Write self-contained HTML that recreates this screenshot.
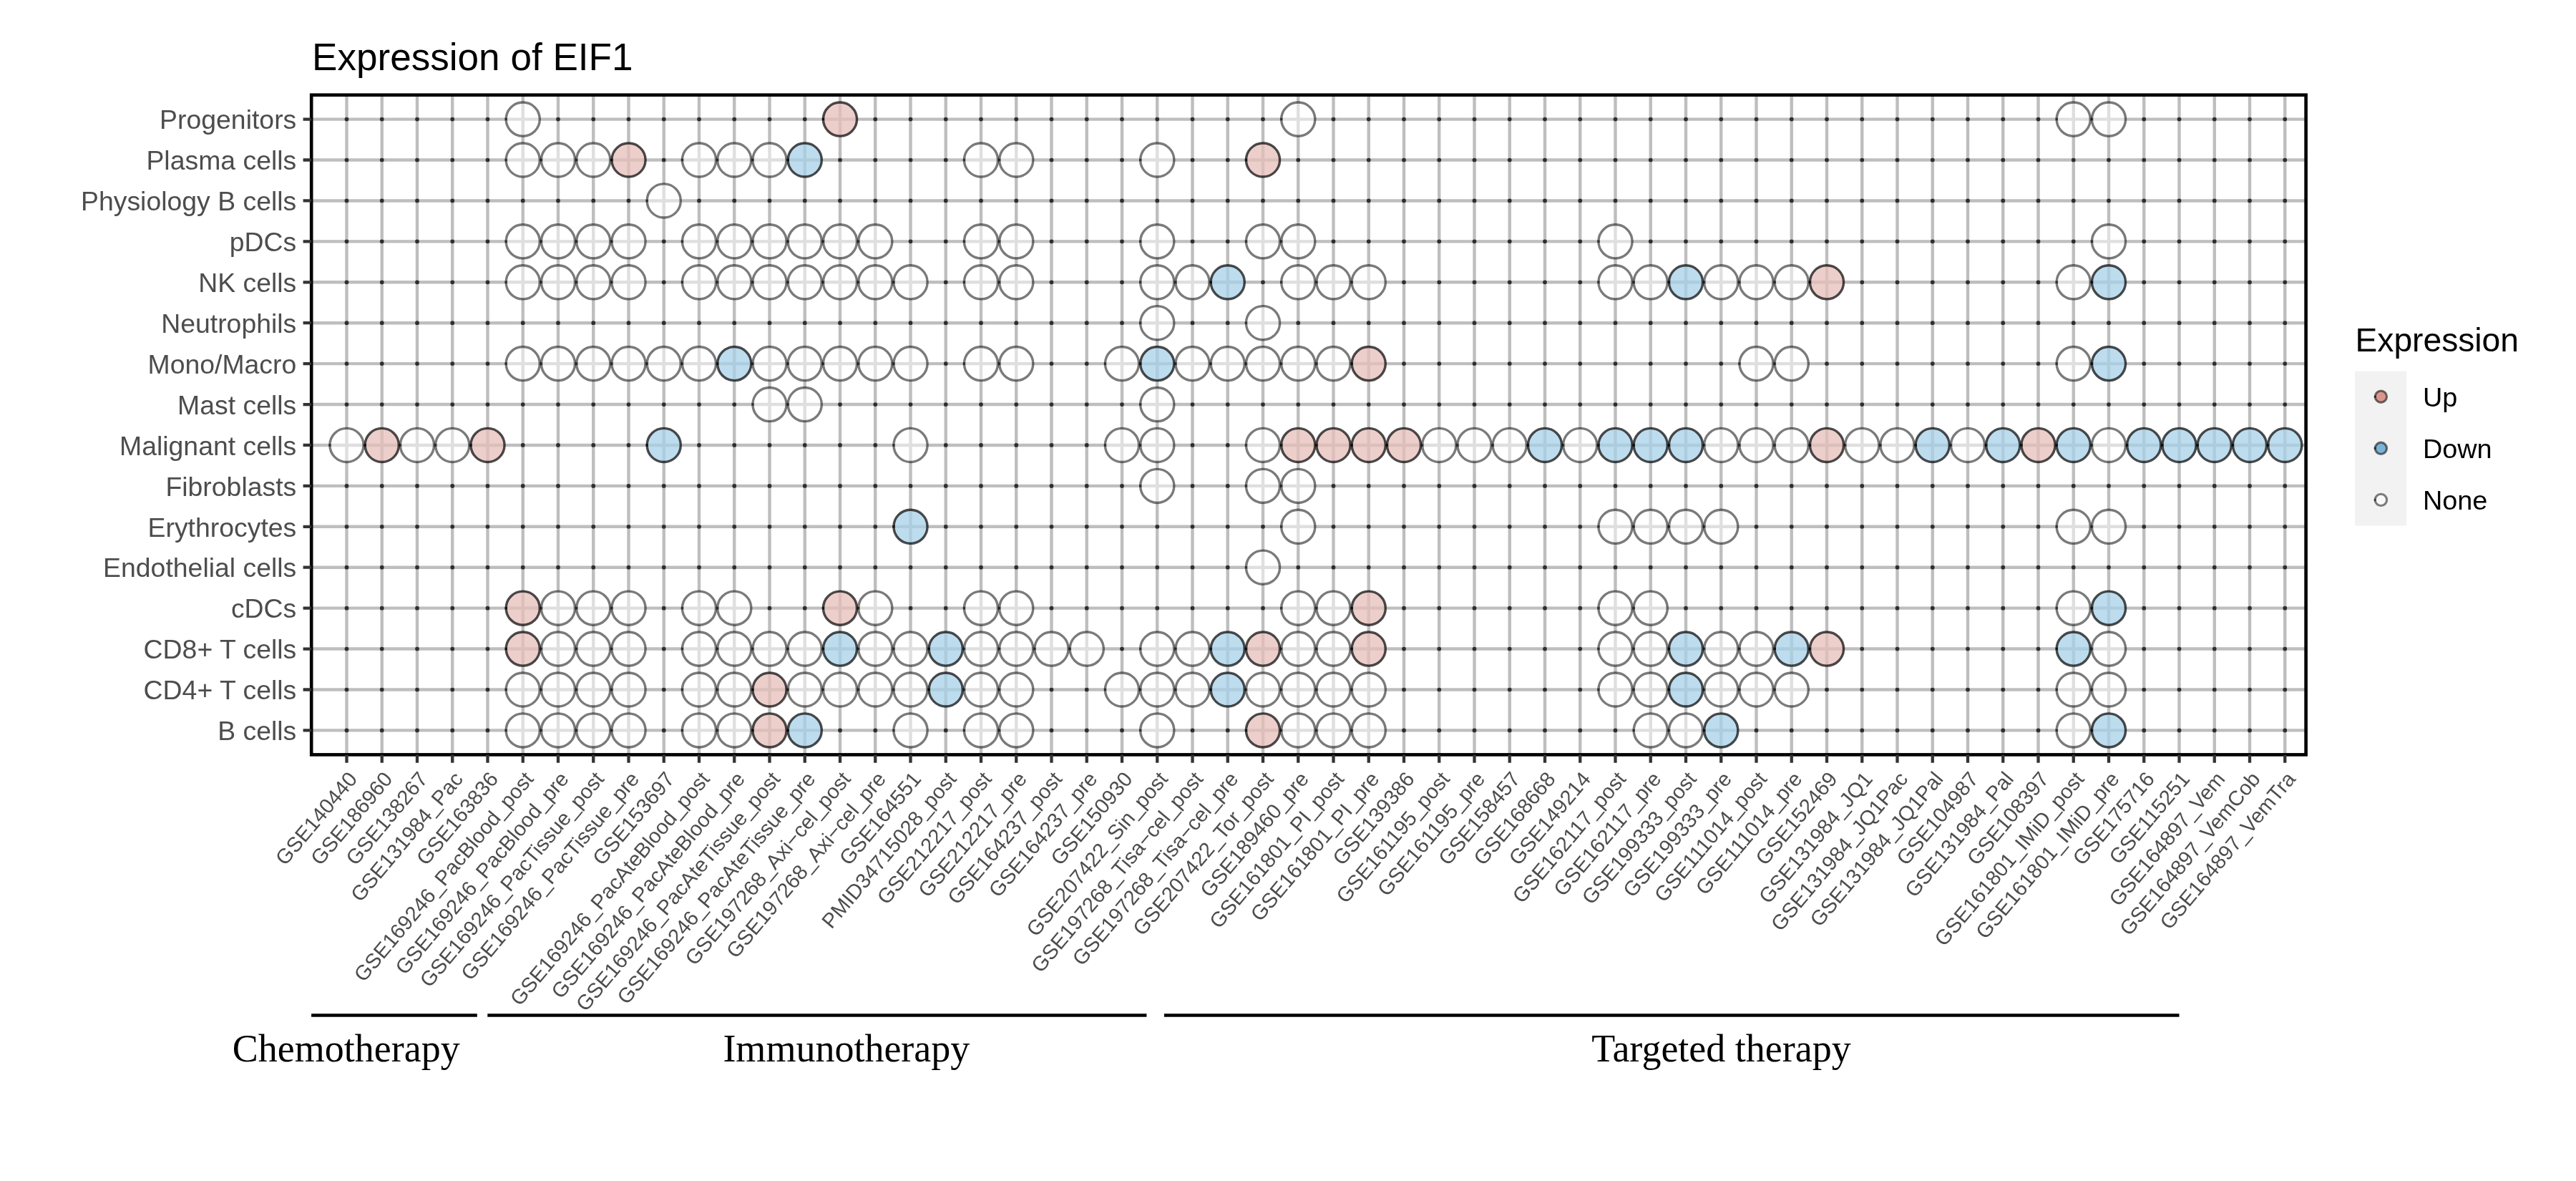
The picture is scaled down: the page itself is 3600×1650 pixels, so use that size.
<!DOCTYPE html><html><head><meta charset="utf-8"><style>html,body{margin:0;padding:0;background:#fff;}svg{display:block;font-family:'Liberation Sans', sans-serif;will-change:transform;}</style></head><body>
<svg width="3600" height="1650" viewBox="0 0 3600 1650">
<rect width="3600" height="1650" fill="#ffffff"/>
<text transform="translate(436,97.76) scale(1,1.0)" font-size="53.1" fill="#000">Expression of EIF1</text>
<path d="M484.5 132.7V1054.4M533.75 132.7V1054.4M583 132.7V1054.4M632.25 132.7V1054.4M681.5 132.7V1054.4M730.75 132.7V1054.4M780 132.7V1054.4M829.25 132.7V1054.4M878.5 132.7V1054.4M927.75 132.7V1054.4M977 132.7V1054.4M1026.25 132.7V1054.4M1075.5 132.7V1054.4M1124.75 132.7V1054.4M1174 132.7V1054.4M1223.25 132.7V1054.4M1272.5 132.7V1054.4M1321.75 132.7V1054.4M1371 132.7V1054.4M1420.25 132.7V1054.4M1469.5 132.7V1054.4M1518.75 132.7V1054.4M1568 132.7V1054.4M1617.25 132.7V1054.4M1666.5 132.7V1054.4M1715.75 132.7V1054.4M1765 132.7V1054.4M1814.25 132.7V1054.4M1863.5 132.7V1054.4M1912.75 132.7V1054.4M1962 132.7V1054.4M2011.25 132.7V1054.4M2060.5 132.7V1054.4M2109.75 132.7V1054.4M2159 132.7V1054.4M2208.25 132.7V1054.4M2257.5 132.7V1054.4M2306.75 132.7V1054.4M2356 132.7V1054.4M2405.25 132.7V1054.4M2454.5 132.7V1054.4M2503.75 132.7V1054.4M2553 132.7V1054.4M2602.25 132.7V1054.4M2651.5 132.7V1054.4M2700.75 132.7V1054.4M2750 132.7V1054.4M2799.25 132.7V1054.4M2848.5 132.7V1054.4M2897.75 132.7V1054.4M2947 132.7V1054.4M2996.25 132.7V1054.4M3045.5 132.7V1054.4M3094.75 132.7V1054.4M3144 132.7V1054.4M3193.25 132.7V1054.4M435.2 166.6H3222.6M435.2 223.52H3222.6M435.2 280.44H3222.6M435.2 337.36H3222.6M435.2 394.28H3222.6M435.2 451.2H3222.6M435.2 508.12H3222.6M435.2 565.04H3222.6M435.2 621.96H3222.6M435.2 678.88H3222.6M435.2 735.8H3222.6M435.2 792.72H3222.6M435.2 849.64H3222.6M435.2 906.56H3222.6M435.2 963.48H3222.6M435.2 1020.4H3222.6" stroke="#bebebe" stroke-width="4.4" fill="none"/>
<g fill="#2e2e2e"><circle cx="484.5" cy="166.6" r="2.85"/><circle cx="533.75" cy="166.6" r="2.85"/><circle cx="583" cy="166.6" r="2.85"/><circle cx="632.25" cy="166.6" r="2.85"/><circle cx="681.5" cy="166.6" r="2.85"/><circle cx="780" cy="166.6" r="2.85"/><circle cx="829.25" cy="166.6" r="2.85"/><circle cx="878.5" cy="166.6" r="2.85"/><circle cx="927.75" cy="166.6" r="2.85"/><circle cx="977" cy="166.6" r="2.85"/><circle cx="1026.25" cy="166.6" r="2.85"/><circle cx="1075.5" cy="166.6" r="2.85"/><circle cx="1124.75" cy="166.6" r="2.85"/><circle cx="1223.25" cy="166.6" r="2.85"/><circle cx="1272.5" cy="166.6" r="2.85"/><circle cx="1321.75" cy="166.6" r="2.85"/><circle cx="1371" cy="166.6" r="2.85"/><circle cx="1420.25" cy="166.6" r="2.85"/><circle cx="1469.5" cy="166.6" r="2.85"/><circle cx="1518.75" cy="166.6" r="2.85"/><circle cx="1568" cy="166.6" r="2.85"/><circle cx="1617.25" cy="166.6" r="2.85"/><circle cx="1666.5" cy="166.6" r="2.85"/><circle cx="1715.75" cy="166.6" r="2.85"/><circle cx="1765" cy="166.6" r="2.85"/><circle cx="1863.5" cy="166.6" r="2.85"/><circle cx="1912.75" cy="166.6" r="2.85"/><circle cx="1962" cy="166.6" r="2.85"/><circle cx="2011.25" cy="166.6" r="2.85"/><circle cx="2060.5" cy="166.6" r="2.85"/><circle cx="2109.75" cy="166.6" r="2.85"/><circle cx="2159" cy="166.6" r="2.85"/><circle cx="2208.25" cy="166.6" r="2.85"/><circle cx="2257.5" cy="166.6" r="2.85"/><circle cx="2306.75" cy="166.6" r="2.85"/><circle cx="2356" cy="166.6" r="2.85"/><circle cx="2405.25" cy="166.6" r="2.85"/><circle cx="2454.5" cy="166.6" r="2.85"/><circle cx="2503.75" cy="166.6" r="2.85"/><circle cx="2553" cy="166.6" r="2.85"/><circle cx="2602.25" cy="166.6" r="2.85"/><circle cx="2651.5" cy="166.6" r="2.85"/><circle cx="2700.75" cy="166.6" r="2.85"/><circle cx="2750" cy="166.6" r="2.85"/><circle cx="2799.25" cy="166.6" r="2.85"/><circle cx="2848.5" cy="166.6" r="2.85"/><circle cx="2996.25" cy="166.6" r="2.85"/><circle cx="3045.5" cy="166.6" r="2.85"/><circle cx="3094.75" cy="166.6" r="2.85"/><circle cx="3144" cy="166.6" r="2.85"/><circle cx="3193.25" cy="166.6" r="2.85"/><circle cx="484.5" cy="223.52" r="2.85"/><circle cx="533.75" cy="223.52" r="2.85"/><circle cx="583" cy="223.52" r="2.85"/><circle cx="632.25" cy="223.52" r="2.85"/><circle cx="681.5" cy="223.52" r="2.85"/><circle cx="927.75" cy="223.52" r="2.85"/><circle cx="1174" cy="223.52" r="2.85"/><circle cx="1223.25" cy="223.52" r="2.85"/><circle cx="1272.5" cy="223.52" r="2.85"/><circle cx="1321.75" cy="223.52" r="2.85"/><circle cx="1469.5" cy="223.52" r="2.85"/><circle cx="1518.75" cy="223.52" r="2.85"/><circle cx="1568" cy="223.52" r="2.85"/><circle cx="1666.5" cy="223.52" r="2.85"/><circle cx="1715.75" cy="223.52" r="2.85"/><circle cx="1814.25" cy="223.52" r="2.85"/><circle cx="1863.5" cy="223.52" r="2.85"/><circle cx="1912.75" cy="223.52" r="2.85"/><circle cx="1962" cy="223.52" r="2.85"/><circle cx="2011.25" cy="223.52" r="2.85"/><circle cx="2060.5" cy="223.52" r="2.85"/><circle cx="2109.75" cy="223.52" r="2.85"/><circle cx="2159" cy="223.52" r="2.85"/><circle cx="2208.25" cy="223.52" r="2.85"/><circle cx="2257.5" cy="223.52" r="2.85"/><circle cx="2306.75" cy="223.52" r="2.85"/><circle cx="2356" cy="223.52" r="2.85"/><circle cx="2405.25" cy="223.52" r="2.85"/><circle cx="2454.5" cy="223.52" r="2.85"/><circle cx="2503.75" cy="223.52" r="2.85"/><circle cx="2553" cy="223.52" r="2.85"/><circle cx="2602.25" cy="223.52" r="2.85"/><circle cx="2651.5" cy="223.52" r="2.85"/><circle cx="2700.75" cy="223.52" r="2.85"/><circle cx="2750" cy="223.52" r="2.85"/><circle cx="2799.25" cy="223.52" r="2.85"/><circle cx="2848.5" cy="223.52" r="2.85"/><circle cx="2897.75" cy="223.52" r="2.85"/><circle cx="2947" cy="223.52" r="2.85"/><circle cx="2996.25" cy="223.52" r="2.85"/><circle cx="3045.5" cy="223.52" r="2.85"/><circle cx="3094.75" cy="223.52" r="2.85"/><circle cx="3144" cy="223.52" r="2.85"/><circle cx="3193.25" cy="223.52" r="2.85"/><circle cx="484.5" cy="280.44" r="2.85"/><circle cx="533.75" cy="280.44" r="2.85"/><circle cx="583" cy="280.44" r="2.85"/><circle cx="632.25" cy="280.44" r="2.85"/><circle cx="681.5" cy="280.44" r="2.85"/><circle cx="730.75" cy="280.44" r="2.85"/><circle cx="780" cy="280.44" r="2.85"/><circle cx="829.25" cy="280.44" r="2.85"/><circle cx="878.5" cy="280.44" r="2.85"/><circle cx="977" cy="280.44" r="2.85"/><circle cx="1026.25" cy="280.44" r="2.85"/><circle cx="1075.5" cy="280.44" r="2.85"/><circle cx="1124.75" cy="280.44" r="2.85"/><circle cx="1174" cy="280.44" r="2.85"/><circle cx="1223.25" cy="280.44" r="2.85"/><circle cx="1272.5" cy="280.44" r="2.85"/><circle cx="1321.75" cy="280.44" r="2.85"/><circle cx="1371" cy="280.44" r="2.85"/><circle cx="1420.25" cy="280.44" r="2.85"/><circle cx="1469.5" cy="280.44" r="2.85"/><circle cx="1518.75" cy="280.44" r="2.85"/><circle cx="1568" cy="280.44" r="2.85"/><circle cx="1617.25" cy="280.44" r="2.85"/><circle cx="1666.5" cy="280.44" r="2.85"/><circle cx="1715.75" cy="280.44" r="2.85"/><circle cx="1765" cy="280.44" r="2.85"/><circle cx="1814.25" cy="280.44" r="2.85"/><circle cx="1863.5" cy="280.44" r="2.85"/><circle cx="1912.75" cy="280.44" r="2.85"/><circle cx="1962" cy="280.44" r="2.85"/><circle cx="2011.25" cy="280.44" r="2.85"/><circle cx="2060.5" cy="280.44" r="2.85"/><circle cx="2109.75" cy="280.44" r="2.85"/><circle cx="2159" cy="280.44" r="2.85"/><circle cx="2208.25" cy="280.44" r="2.85"/><circle cx="2257.5" cy="280.44" r="2.85"/><circle cx="2306.75" cy="280.44" r="2.85"/><circle cx="2356" cy="280.44" r="2.85"/><circle cx="2405.25" cy="280.44" r="2.85"/><circle cx="2454.5" cy="280.44" r="2.85"/><circle cx="2503.75" cy="280.44" r="2.85"/><circle cx="2553" cy="280.44" r="2.85"/><circle cx="2602.25" cy="280.44" r="2.85"/><circle cx="2651.5" cy="280.44" r="2.85"/><circle cx="2700.75" cy="280.44" r="2.85"/><circle cx="2750" cy="280.44" r="2.85"/><circle cx="2799.25" cy="280.44" r="2.85"/><circle cx="2848.5" cy="280.44" r="2.85"/><circle cx="2897.75" cy="280.44" r="2.85"/><circle cx="2947" cy="280.44" r="2.85"/><circle cx="2996.25" cy="280.44" r="2.85"/><circle cx="3045.5" cy="280.44" r="2.85"/><circle cx="3094.75" cy="280.44" r="2.85"/><circle cx="3144" cy="280.44" r="2.85"/><circle cx="3193.25" cy="280.44" r="2.85"/><circle cx="484.5" cy="337.36" r="2.85"/><circle cx="533.75" cy="337.36" r="2.85"/><circle cx="583" cy="337.36" r="2.85"/><circle cx="632.25" cy="337.36" r="2.85"/><circle cx="681.5" cy="337.36" r="2.85"/><circle cx="927.75" cy="337.36" r="2.85"/><circle cx="1272.5" cy="337.36" r="2.85"/><circle cx="1321.75" cy="337.36" r="2.85"/><circle cx="1469.5" cy="337.36" r="2.85"/><circle cx="1518.75" cy="337.36" r="2.85"/><circle cx="1568" cy="337.36" r="2.85"/><circle cx="1666.5" cy="337.36" r="2.85"/><circle cx="1715.75" cy="337.36" r="2.85"/><circle cx="1863.5" cy="337.36" r="2.85"/><circle cx="1912.75" cy="337.36" r="2.85"/><circle cx="1962" cy="337.36" r="2.85"/><circle cx="2011.25" cy="337.36" r="2.85"/><circle cx="2060.5" cy="337.36" r="2.85"/><circle cx="2109.75" cy="337.36" r="2.85"/><circle cx="2159" cy="337.36" r="2.85"/><circle cx="2208.25" cy="337.36" r="2.85"/><circle cx="2306.75" cy="337.36" r="2.85"/><circle cx="2356" cy="337.36" r="2.85"/><circle cx="2405.25" cy="337.36" r="2.85"/><circle cx="2454.5" cy="337.36" r="2.85"/><circle cx="2503.75" cy="337.36" r="2.85"/><circle cx="2553" cy="337.36" r="2.85"/><circle cx="2602.25" cy="337.36" r="2.85"/><circle cx="2651.5" cy="337.36" r="2.85"/><circle cx="2700.75" cy="337.36" r="2.85"/><circle cx="2750" cy="337.36" r="2.85"/><circle cx="2799.25" cy="337.36" r="2.85"/><circle cx="2848.5" cy="337.36" r="2.85"/><circle cx="2897.75" cy="337.36" r="2.85"/><circle cx="2996.25" cy="337.36" r="2.85"/><circle cx="3045.5" cy="337.36" r="2.85"/><circle cx="3094.75" cy="337.36" r="2.85"/><circle cx="3144" cy="337.36" r="2.85"/><circle cx="3193.25" cy="337.36" r="2.85"/><circle cx="484.5" cy="394.28" r="2.85"/><circle cx="533.75" cy="394.28" r="2.85"/><circle cx="583" cy="394.28" r="2.85"/><circle cx="632.25" cy="394.28" r="2.85"/><circle cx="681.5" cy="394.28" r="2.85"/><circle cx="927.75" cy="394.28" r="2.85"/><circle cx="1321.75" cy="394.28" r="2.85"/><circle cx="1469.5" cy="394.28" r="2.85"/><circle cx="1518.75" cy="394.28" r="2.85"/><circle cx="1568" cy="394.28" r="2.85"/><circle cx="1765" cy="394.28" r="2.85"/><circle cx="1962" cy="394.28" r="2.85"/><circle cx="2011.25" cy="394.28" r="2.85"/><circle cx="2060.5" cy="394.28" r="2.85"/><circle cx="2109.75" cy="394.28" r="2.85"/><circle cx="2159" cy="394.28" r="2.85"/><circle cx="2208.25" cy="394.28" r="2.85"/><circle cx="2602.25" cy="394.28" r="2.85"/><circle cx="2651.5" cy="394.28" r="2.85"/><circle cx="2700.75" cy="394.28" r="2.85"/><circle cx="2750" cy="394.28" r="2.85"/><circle cx="2799.25" cy="394.28" r="2.85"/><circle cx="2848.5" cy="394.28" r="2.85"/><circle cx="2996.25" cy="394.28" r="2.85"/><circle cx="3045.5" cy="394.28" r="2.85"/><circle cx="3094.75" cy="394.28" r="2.85"/><circle cx="3144" cy="394.28" r="2.85"/><circle cx="3193.25" cy="394.28" r="2.85"/><circle cx="484.5" cy="451.2" r="2.85"/><circle cx="533.75" cy="451.2" r="2.85"/><circle cx="583" cy="451.2" r="2.85"/><circle cx="632.25" cy="451.2" r="2.85"/><circle cx="681.5" cy="451.2" r="2.85"/><circle cx="730.75" cy="451.2" r="2.85"/><circle cx="780" cy="451.2" r="2.85"/><circle cx="829.25" cy="451.2" r="2.85"/><circle cx="878.5" cy="451.2" r="2.85"/><circle cx="927.75" cy="451.2" r="2.85"/><circle cx="977" cy="451.2" r="2.85"/><circle cx="1026.25" cy="451.2" r="2.85"/><circle cx="1075.5" cy="451.2" r="2.85"/><circle cx="1124.75" cy="451.2" r="2.85"/><circle cx="1174" cy="451.2" r="2.85"/><circle cx="1223.25" cy="451.2" r="2.85"/><circle cx="1272.5" cy="451.2" r="2.85"/><circle cx="1321.75" cy="451.2" r="2.85"/><circle cx="1371" cy="451.2" r="2.85"/><circle cx="1420.25" cy="451.2" r="2.85"/><circle cx="1469.5" cy="451.2" r="2.85"/><circle cx="1518.75" cy="451.2" r="2.85"/><circle cx="1568" cy="451.2" r="2.85"/><circle cx="1666.5" cy="451.2" r="2.85"/><circle cx="1715.75" cy="451.2" r="2.85"/><circle cx="1814.25" cy="451.2" r="2.85"/><circle cx="1863.5" cy="451.2" r="2.85"/><circle cx="1912.75" cy="451.2" r="2.85"/><circle cx="1962" cy="451.2" r="2.85"/><circle cx="2011.25" cy="451.2" r="2.85"/><circle cx="2060.5" cy="451.2" r="2.85"/><circle cx="2109.75" cy="451.2" r="2.85"/><circle cx="2159" cy="451.2" r="2.85"/><circle cx="2208.25" cy="451.2" r="2.85"/><circle cx="2257.5" cy="451.2" r="2.85"/><circle cx="2306.75" cy="451.2" r="2.85"/><circle cx="2356" cy="451.2" r="2.85"/><circle cx="2405.25" cy="451.2" r="2.85"/><circle cx="2454.5" cy="451.2" r="2.85"/><circle cx="2503.75" cy="451.2" r="2.85"/><circle cx="2553" cy="451.2" r="2.85"/><circle cx="2602.25" cy="451.2" r="2.85"/><circle cx="2651.5" cy="451.2" r="2.85"/><circle cx="2700.75" cy="451.2" r="2.85"/><circle cx="2750" cy="451.2" r="2.85"/><circle cx="2799.25" cy="451.2" r="2.85"/><circle cx="2848.5" cy="451.2" r="2.85"/><circle cx="2897.75" cy="451.2" r="2.85"/><circle cx="2947" cy="451.2" r="2.85"/><circle cx="2996.25" cy="451.2" r="2.85"/><circle cx="3045.5" cy="451.2" r="2.85"/><circle cx="3094.75" cy="451.2" r="2.85"/><circle cx="3144" cy="451.2" r="2.85"/><circle cx="3193.25" cy="451.2" r="2.85"/><circle cx="484.5" cy="508.12" r="2.85"/><circle cx="533.75" cy="508.12" r="2.85"/><circle cx="583" cy="508.12" r="2.85"/><circle cx="632.25" cy="508.12" r="2.85"/><circle cx="681.5" cy="508.12" r="2.85"/><circle cx="1321.75" cy="508.12" r="2.85"/><circle cx="1469.5" cy="508.12" r="2.85"/><circle cx="1518.75" cy="508.12" r="2.85"/><circle cx="1962" cy="508.12" r="2.85"/><circle cx="2011.25" cy="508.12" r="2.85"/><circle cx="2060.5" cy="508.12" r="2.85"/><circle cx="2109.75" cy="508.12" r="2.85"/><circle cx="2159" cy="508.12" r="2.85"/><circle cx="2208.25" cy="508.12" r="2.85"/><circle cx="2257.5" cy="508.12" r="2.85"/><circle cx="2306.75" cy="508.12" r="2.85"/><circle cx="2356" cy="508.12" r="2.85"/><circle cx="2405.25" cy="508.12" r="2.85"/><circle cx="2553" cy="508.12" r="2.85"/><circle cx="2602.25" cy="508.12" r="2.85"/><circle cx="2651.5" cy="508.12" r="2.85"/><circle cx="2700.75" cy="508.12" r="2.85"/><circle cx="2750" cy="508.12" r="2.85"/><circle cx="2799.25" cy="508.12" r="2.85"/><circle cx="2848.5" cy="508.12" r="2.85"/><circle cx="2996.25" cy="508.12" r="2.85"/><circle cx="3045.5" cy="508.12" r="2.85"/><circle cx="3094.75" cy="508.12" r="2.85"/><circle cx="3144" cy="508.12" r="2.85"/><circle cx="3193.25" cy="508.12" r="2.85"/><circle cx="484.5" cy="565.04" r="2.85"/><circle cx="533.75" cy="565.04" r="2.85"/><circle cx="583" cy="565.04" r="2.85"/><circle cx="632.25" cy="565.04" r="2.85"/><circle cx="681.5" cy="565.04" r="2.85"/><circle cx="730.75" cy="565.04" r="2.85"/><circle cx="780" cy="565.04" r="2.85"/><circle cx="829.25" cy="565.04" r="2.85"/><circle cx="878.5" cy="565.04" r="2.85"/><circle cx="927.75" cy="565.04" r="2.85"/><circle cx="977" cy="565.04" r="2.85"/><circle cx="1026.25" cy="565.04" r="2.85"/><circle cx="1174" cy="565.04" r="2.85"/><circle cx="1223.25" cy="565.04" r="2.85"/><circle cx="1272.5" cy="565.04" r="2.85"/><circle cx="1321.75" cy="565.04" r="2.85"/><circle cx="1371" cy="565.04" r="2.85"/><circle cx="1420.25" cy="565.04" r="2.85"/><circle cx="1469.5" cy="565.04" r="2.85"/><circle cx="1518.75" cy="565.04" r="2.85"/><circle cx="1568" cy="565.04" r="2.85"/><circle cx="1666.5" cy="565.04" r="2.85"/><circle cx="1715.75" cy="565.04" r="2.85"/><circle cx="1765" cy="565.04" r="2.85"/><circle cx="1814.25" cy="565.04" r="2.85"/><circle cx="1863.5" cy="565.04" r="2.85"/><circle cx="1912.75" cy="565.04" r="2.85"/><circle cx="1962" cy="565.04" r="2.85"/><circle cx="2011.25" cy="565.04" r="2.85"/><circle cx="2060.5" cy="565.04" r="2.85"/><circle cx="2109.75" cy="565.04" r="2.85"/><circle cx="2159" cy="565.04" r="2.85"/><circle cx="2208.25" cy="565.04" r="2.85"/><circle cx="2257.5" cy="565.04" r="2.85"/><circle cx="2306.75" cy="565.04" r="2.85"/><circle cx="2356" cy="565.04" r="2.85"/><circle cx="2405.25" cy="565.04" r="2.85"/><circle cx="2454.5" cy="565.04" r="2.85"/><circle cx="2503.75" cy="565.04" r="2.85"/><circle cx="2553" cy="565.04" r="2.85"/><circle cx="2602.25" cy="565.04" r="2.85"/><circle cx="2651.5" cy="565.04" r="2.85"/><circle cx="2700.75" cy="565.04" r="2.85"/><circle cx="2750" cy="565.04" r="2.85"/><circle cx="2799.25" cy="565.04" r="2.85"/><circle cx="2848.5" cy="565.04" r="2.85"/><circle cx="2897.75" cy="565.04" r="2.85"/><circle cx="2947" cy="565.04" r="2.85"/><circle cx="2996.25" cy="565.04" r="2.85"/><circle cx="3045.5" cy="565.04" r="2.85"/><circle cx="3094.75" cy="565.04" r="2.85"/><circle cx="3144" cy="565.04" r="2.85"/><circle cx="3193.25" cy="565.04" r="2.85"/><circle cx="730.75" cy="621.96" r="2.85"/><circle cx="780" cy="621.96" r="2.85"/><circle cx="829.25" cy="621.96" r="2.85"/><circle cx="878.5" cy="621.96" r="2.85"/><circle cx="977" cy="621.96" r="2.85"/><circle cx="1026.25" cy="621.96" r="2.85"/><circle cx="1075.5" cy="621.96" r="2.85"/><circle cx="1124.75" cy="621.96" r="2.85"/><circle cx="1174" cy="621.96" r="2.85"/><circle cx="1223.25" cy="621.96" r="2.85"/><circle cx="1321.75" cy="621.96" r="2.85"/><circle cx="1371" cy="621.96" r="2.85"/><circle cx="1420.25" cy="621.96" r="2.85"/><circle cx="1469.5" cy="621.96" r="2.85"/><circle cx="1518.75" cy="621.96" r="2.85"/><circle cx="1666.5" cy="621.96" r="2.85"/><circle cx="1715.75" cy="621.96" r="2.85"/><circle cx="484.5" cy="678.88" r="2.85"/><circle cx="533.75" cy="678.88" r="2.85"/><circle cx="583" cy="678.88" r="2.85"/><circle cx="632.25" cy="678.88" r="2.85"/><circle cx="681.5" cy="678.88" r="2.85"/><circle cx="730.75" cy="678.88" r="2.85"/><circle cx="780" cy="678.88" r="2.85"/><circle cx="829.25" cy="678.88" r="2.85"/><circle cx="878.5" cy="678.88" r="2.85"/><circle cx="927.75" cy="678.88" r="2.85"/><circle cx="977" cy="678.88" r="2.85"/><circle cx="1026.25" cy="678.88" r="2.85"/><circle cx="1075.5" cy="678.88" r="2.85"/><circle cx="1124.75" cy="678.88" r="2.85"/><circle cx="1174" cy="678.88" r="2.85"/><circle cx="1223.25" cy="678.88" r="2.85"/><circle cx="1272.5" cy="678.88" r="2.85"/><circle cx="1321.75" cy="678.88" r="2.85"/><circle cx="1371" cy="678.88" r="2.85"/><circle cx="1420.25" cy="678.88" r="2.85"/><circle cx="1469.5" cy="678.88" r="2.85"/><circle cx="1518.75" cy="678.88" r="2.85"/><circle cx="1568" cy="678.88" r="2.85"/><circle cx="1666.5" cy="678.88" r="2.85"/><circle cx="1715.75" cy="678.88" r="2.85"/><circle cx="1863.5" cy="678.88" r="2.85"/><circle cx="1912.75" cy="678.88" r="2.85"/><circle cx="1962" cy="678.88" r="2.85"/><circle cx="2011.25" cy="678.88" r="2.85"/><circle cx="2060.5" cy="678.88" r="2.85"/><circle cx="2109.75" cy="678.88" r="2.85"/><circle cx="2159" cy="678.88" r="2.85"/><circle cx="2208.25" cy="678.88" r="2.85"/><circle cx="2257.5" cy="678.88" r="2.85"/><circle cx="2306.75" cy="678.88" r="2.85"/><circle cx="2356" cy="678.88" r="2.85"/><circle cx="2405.25" cy="678.88" r="2.85"/><circle cx="2454.5" cy="678.88" r="2.85"/><circle cx="2503.75" cy="678.88" r="2.85"/><circle cx="2553" cy="678.88" r="2.85"/><circle cx="2602.25" cy="678.88" r="2.85"/><circle cx="2651.5" cy="678.88" r="2.85"/><circle cx="2700.75" cy="678.88" r="2.85"/><circle cx="2750" cy="678.88" r="2.85"/><circle cx="2799.25" cy="678.88" r="2.85"/><circle cx="2848.5" cy="678.88" r="2.85"/><circle cx="2897.75" cy="678.88" r="2.85"/><circle cx="2947" cy="678.88" r="2.85"/><circle cx="2996.25" cy="678.88" r="2.85"/><circle cx="3045.5" cy="678.88" r="2.85"/><circle cx="3094.75" cy="678.88" r="2.85"/><circle cx="3144" cy="678.88" r="2.85"/><circle cx="3193.25" cy="678.88" r="2.85"/><circle cx="484.5" cy="735.8" r="2.85"/><circle cx="533.75" cy="735.8" r="2.85"/><circle cx="583" cy="735.8" r="2.85"/><circle cx="632.25" cy="735.8" r="2.85"/><circle cx="681.5" cy="735.8" r="2.85"/><circle cx="730.75" cy="735.8" r="2.85"/><circle cx="780" cy="735.8" r="2.85"/><circle cx="829.25" cy="735.8" r="2.85"/><circle cx="878.5" cy="735.8" r="2.85"/><circle cx="927.75" cy="735.8" r="2.85"/><circle cx="977" cy="735.8" r="2.85"/><circle cx="1026.25" cy="735.8" r="2.85"/><circle cx="1075.5" cy="735.8" r="2.85"/><circle cx="1124.75" cy="735.8" r="2.85"/><circle cx="1174" cy="735.8" r="2.85"/><circle cx="1223.25" cy="735.8" r="2.85"/><circle cx="1321.75" cy="735.8" r="2.85"/><circle cx="1371" cy="735.8" r="2.85"/><circle cx="1420.25" cy="735.8" r="2.85"/><circle cx="1469.5" cy="735.8" r="2.85"/><circle cx="1518.75" cy="735.8" r="2.85"/><circle cx="1568" cy="735.8" r="2.85"/><circle cx="1617.25" cy="735.8" r="2.85"/><circle cx="1666.5" cy="735.8" r="2.85"/><circle cx="1715.75" cy="735.8" r="2.85"/><circle cx="1765" cy="735.8" r="2.85"/><circle cx="1863.5" cy="735.8" r="2.85"/><circle cx="1912.75" cy="735.8" r="2.85"/><circle cx="1962" cy="735.8" r="2.85"/><circle cx="2011.25" cy="735.8" r="2.85"/><circle cx="2060.5" cy="735.8" r="2.85"/><circle cx="2109.75" cy="735.8" r="2.85"/><circle cx="2159" cy="735.8" r="2.85"/><circle cx="2208.25" cy="735.8" r="2.85"/><circle cx="2454.5" cy="735.8" r="2.85"/><circle cx="2503.75" cy="735.8" r="2.85"/><circle cx="2553" cy="735.8" r="2.85"/><circle cx="2602.25" cy="735.8" r="2.85"/><circle cx="2651.5" cy="735.8" r="2.85"/><circle cx="2700.75" cy="735.8" r="2.85"/><circle cx="2750" cy="735.8" r="2.85"/><circle cx="2799.25" cy="735.8" r="2.85"/><circle cx="2848.5" cy="735.8" r="2.85"/><circle cx="2996.25" cy="735.8" r="2.85"/><circle cx="3045.5" cy="735.8" r="2.85"/><circle cx="3094.75" cy="735.8" r="2.85"/><circle cx="3144" cy="735.8" r="2.85"/><circle cx="3193.25" cy="735.8" r="2.85"/><circle cx="484.5" cy="792.72" r="2.85"/><circle cx="533.75" cy="792.72" r="2.85"/><circle cx="583" cy="792.72" r="2.85"/><circle cx="632.25" cy="792.72" r="2.85"/><circle cx="681.5" cy="792.72" r="2.85"/><circle cx="730.75" cy="792.72" r="2.85"/><circle cx="780" cy="792.72" r="2.85"/><circle cx="829.25" cy="792.72" r="2.85"/><circle cx="878.5" cy="792.72" r="2.85"/><circle cx="927.75" cy="792.72" r="2.85"/><circle cx="977" cy="792.72" r="2.85"/><circle cx="1026.25" cy="792.72" r="2.85"/><circle cx="1075.5" cy="792.72" r="2.85"/><circle cx="1124.75" cy="792.72" r="2.85"/><circle cx="1174" cy="792.72" r="2.85"/><circle cx="1223.25" cy="792.72" r="2.85"/><circle cx="1272.5" cy="792.72" r="2.85"/><circle cx="1321.75" cy="792.72" r="2.85"/><circle cx="1371" cy="792.72" r="2.85"/><circle cx="1420.25" cy="792.72" r="2.85"/><circle cx="1469.5" cy="792.72" r="2.85"/><circle cx="1518.75" cy="792.72" r="2.85"/><circle cx="1568" cy="792.72" r="2.85"/><circle cx="1617.25" cy="792.72" r="2.85"/><circle cx="1666.5" cy="792.72" r="2.85"/><circle cx="1715.75" cy="792.72" r="2.85"/><circle cx="1814.25" cy="792.72" r="2.85"/><circle cx="1863.5" cy="792.72" r="2.85"/><circle cx="1912.75" cy="792.72" r="2.85"/><circle cx="1962" cy="792.72" r="2.85"/><circle cx="2011.25" cy="792.72" r="2.85"/><circle cx="2060.5" cy="792.72" r="2.85"/><circle cx="2109.75" cy="792.72" r="2.85"/><circle cx="2159" cy="792.72" r="2.85"/><circle cx="2208.25" cy="792.72" r="2.85"/><circle cx="2257.5" cy="792.72" r="2.85"/><circle cx="2306.75" cy="792.72" r="2.85"/><circle cx="2356" cy="792.72" r="2.85"/><circle cx="2405.25" cy="792.72" r="2.85"/><circle cx="2454.5" cy="792.72" r="2.85"/><circle cx="2503.75" cy="792.72" r="2.85"/><circle cx="2553" cy="792.72" r="2.85"/><circle cx="2602.25" cy="792.72" r="2.85"/><circle cx="2651.5" cy="792.72" r="2.85"/><circle cx="2700.75" cy="792.72" r="2.85"/><circle cx="2750" cy="792.72" r="2.85"/><circle cx="2799.25" cy="792.72" r="2.85"/><circle cx="2848.5" cy="792.72" r="2.85"/><circle cx="2897.75" cy="792.72" r="2.85"/><circle cx="2947" cy="792.72" r="2.85"/><circle cx="2996.25" cy="792.72" r="2.85"/><circle cx="3045.5" cy="792.72" r="2.85"/><circle cx="3094.75" cy="792.72" r="2.85"/><circle cx="3144" cy="792.72" r="2.85"/><circle cx="3193.25" cy="792.72" r="2.85"/><circle cx="484.5" cy="849.64" r="2.85"/><circle cx="533.75" cy="849.64" r="2.85"/><circle cx="583" cy="849.64" r="2.85"/><circle cx="632.25" cy="849.64" r="2.85"/><circle cx="681.5" cy="849.64" r="2.85"/><circle cx="927.75" cy="849.64" r="2.85"/><circle cx="1075.5" cy="849.64" r="2.85"/><circle cx="1124.75" cy="849.64" r="2.85"/><circle cx="1272.5" cy="849.64" r="2.85"/><circle cx="1321.75" cy="849.64" r="2.85"/><circle cx="1469.5" cy="849.64" r="2.85"/><circle cx="1518.75" cy="849.64" r="2.85"/><circle cx="1568" cy="849.64" r="2.85"/><circle cx="1617.25" cy="849.64" r="2.85"/><circle cx="1666.5" cy="849.64" r="2.85"/><circle cx="1715.75" cy="849.64" r="2.85"/><circle cx="1765" cy="849.64" r="2.85"/><circle cx="1962" cy="849.64" r="2.85"/><circle cx="2011.25" cy="849.64" r="2.85"/><circle cx="2060.5" cy="849.64" r="2.85"/><circle cx="2109.75" cy="849.64" r="2.85"/><circle cx="2159" cy="849.64" r="2.85"/><circle cx="2208.25" cy="849.64" r="2.85"/><circle cx="2356" cy="849.64" r="2.85"/><circle cx="2405.25" cy="849.64" r="2.85"/><circle cx="2454.5" cy="849.64" r="2.85"/><circle cx="2503.75" cy="849.64" r="2.85"/><circle cx="2553" cy="849.64" r="2.85"/><circle cx="2602.25" cy="849.64" r="2.85"/><circle cx="2651.5" cy="849.64" r="2.85"/><circle cx="2700.75" cy="849.64" r="2.85"/><circle cx="2750" cy="849.64" r="2.85"/><circle cx="2799.25" cy="849.64" r="2.85"/><circle cx="2848.5" cy="849.64" r="2.85"/><circle cx="2996.25" cy="849.64" r="2.85"/><circle cx="3045.5" cy="849.64" r="2.85"/><circle cx="3094.75" cy="849.64" r="2.85"/><circle cx="3144" cy="849.64" r="2.85"/><circle cx="3193.25" cy="849.64" r="2.85"/><circle cx="484.5" cy="906.56" r="2.85"/><circle cx="533.75" cy="906.56" r="2.85"/><circle cx="583" cy="906.56" r="2.85"/><circle cx="632.25" cy="906.56" r="2.85"/><circle cx="681.5" cy="906.56" r="2.85"/><circle cx="927.75" cy="906.56" r="2.85"/><circle cx="1568" cy="906.56" r="2.85"/><circle cx="1962" cy="906.56" r="2.85"/><circle cx="2011.25" cy="906.56" r="2.85"/><circle cx="2060.5" cy="906.56" r="2.85"/><circle cx="2109.75" cy="906.56" r="2.85"/><circle cx="2159" cy="906.56" r="2.85"/><circle cx="2208.25" cy="906.56" r="2.85"/><circle cx="2602.25" cy="906.56" r="2.85"/><circle cx="2651.5" cy="906.56" r="2.85"/><circle cx="2700.75" cy="906.56" r="2.85"/><circle cx="2750" cy="906.56" r="2.85"/><circle cx="2799.25" cy="906.56" r="2.85"/><circle cx="2848.5" cy="906.56" r="2.85"/><circle cx="2996.25" cy="906.56" r="2.85"/><circle cx="3045.5" cy="906.56" r="2.85"/><circle cx="3094.75" cy="906.56" r="2.85"/><circle cx="3144" cy="906.56" r="2.85"/><circle cx="3193.25" cy="906.56" r="2.85"/><circle cx="484.5" cy="963.48" r="2.85"/><circle cx="533.75" cy="963.48" r="2.85"/><circle cx="583" cy="963.48" r="2.85"/><circle cx="632.25" cy="963.48" r="2.85"/><circle cx="681.5" cy="963.48" r="2.85"/><circle cx="927.75" cy="963.48" r="2.85"/><circle cx="1469.5" cy="963.48" r="2.85"/><circle cx="1518.75" cy="963.48" r="2.85"/><circle cx="1962" cy="963.48" r="2.85"/><circle cx="2011.25" cy="963.48" r="2.85"/><circle cx="2060.5" cy="963.48" r="2.85"/><circle cx="2109.75" cy="963.48" r="2.85"/><circle cx="2159" cy="963.48" r="2.85"/><circle cx="2208.25" cy="963.48" r="2.85"/><circle cx="2553" cy="963.48" r="2.85"/><circle cx="2602.25" cy="963.48" r="2.85"/><circle cx="2651.5" cy="963.48" r="2.85"/><circle cx="2700.75" cy="963.48" r="2.85"/><circle cx="2750" cy="963.48" r="2.85"/><circle cx="2799.25" cy="963.48" r="2.85"/><circle cx="2848.5" cy="963.48" r="2.85"/><circle cx="2996.25" cy="963.48" r="2.85"/><circle cx="3045.5" cy="963.48" r="2.85"/><circle cx="3094.75" cy="963.48" r="2.85"/><circle cx="3144" cy="963.48" r="2.85"/><circle cx="3193.25" cy="963.48" r="2.85"/><circle cx="484.5" cy="1020.4" r="2.85"/><circle cx="533.75" cy="1020.4" r="2.85"/><circle cx="583" cy="1020.4" r="2.85"/><circle cx="632.25" cy="1020.4" r="2.85"/><circle cx="681.5" cy="1020.4" r="2.85"/><circle cx="927.75" cy="1020.4" r="2.85"/><circle cx="1174" cy="1020.4" r="2.85"/><circle cx="1223.25" cy="1020.4" r="2.85"/><circle cx="1321.75" cy="1020.4" r="2.85"/><circle cx="1469.5" cy="1020.4" r="2.85"/><circle cx="1518.75" cy="1020.4" r="2.85"/><circle cx="1568" cy="1020.4" r="2.85"/><circle cx="1666.5" cy="1020.4" r="2.85"/><circle cx="1715.75" cy="1020.4" r="2.85"/><circle cx="1962" cy="1020.4" r="2.85"/><circle cx="2011.25" cy="1020.4" r="2.85"/><circle cx="2060.5" cy="1020.4" r="2.85"/><circle cx="2109.75" cy="1020.4" r="2.85"/><circle cx="2159" cy="1020.4" r="2.85"/><circle cx="2208.25" cy="1020.4" r="2.85"/><circle cx="2257.5" cy="1020.4" r="2.85"/><circle cx="2454.5" cy="1020.4" r="2.85"/><circle cx="2503.75" cy="1020.4" r="2.85"/><circle cx="2553" cy="1020.4" r="2.85"/><circle cx="2602.25" cy="1020.4" r="2.85"/><circle cx="2651.5" cy="1020.4" r="2.85"/><circle cx="2700.75" cy="1020.4" r="2.85"/><circle cx="2750" cy="1020.4" r="2.85"/><circle cx="2799.25" cy="1020.4" r="2.85"/><circle cx="2848.5" cy="1020.4" r="2.85"/><circle cx="2996.25" cy="1020.4" r="2.85"/><circle cx="3045.5" cy="1020.4" r="2.85"/><circle cx="3094.75" cy="1020.4" r="2.85"/><circle cx="3144" cy="1020.4" r="2.85"/><circle cx="3193.25" cy="1020.4" r="2.85"/></g>
<g stroke-width="3.4"><circle cx="484.5" cy="621.96" r="23.55" fill="rgba(255,255,255,0.5)" stroke="rgba(0,0,0,0.52)"/><circle cx="533.75" cy="621.96" r="23.55" fill="rgba(229,189,185,0.75)" stroke="rgba(0,0,0,0.7)"/><circle cx="583" cy="621.96" r="23.55" fill="rgba(255,255,255,0.5)" stroke="rgba(0,0,0,0.52)"/><circle cx="632.25" cy="621.96" r="23.55" fill="rgba(255,255,255,0.5)" stroke="rgba(0,0,0,0.52)"/><circle cx="681.5" cy="621.96" r="23.55" fill="rgba(229,189,185,0.75)" stroke="rgba(0,0,0,0.7)"/><circle cx="730.75" cy="166.6" r="23.55" fill="rgba(255,255,255,0.5)" stroke="rgba(0,0,0,0.52)"/><circle cx="730.75" cy="223.52" r="23.55" fill="rgba(255,255,255,0.5)" stroke="rgba(0,0,0,0.52)"/><circle cx="730.75" cy="337.36" r="23.55" fill="rgba(255,255,255,0.5)" stroke="rgba(0,0,0,0.52)"/><circle cx="730.75" cy="394.28" r="23.55" fill="rgba(255,255,255,0.5)" stroke="rgba(0,0,0,0.52)"/><circle cx="730.75" cy="508.12" r="23.55" fill="rgba(255,255,255,0.5)" stroke="rgba(0,0,0,0.52)"/><circle cx="730.75" cy="849.64" r="23.55" fill="rgba(229,189,185,0.75)" stroke="rgba(0,0,0,0.7)"/><circle cx="730.75" cy="906.56" r="23.55" fill="rgba(229,189,185,0.75)" stroke="rgba(0,0,0,0.7)"/><circle cx="730.75" cy="963.48" r="23.55" fill="rgba(255,255,255,0.5)" stroke="rgba(0,0,0,0.52)"/><circle cx="730.75" cy="1020.4" r="23.55" fill="rgba(255,255,255,0.5)" stroke="rgba(0,0,0,0.52)"/><circle cx="780" cy="223.52" r="23.55" fill="rgba(255,255,255,0.5)" stroke="rgba(0,0,0,0.52)"/><circle cx="780" cy="337.36" r="23.55" fill="rgba(255,255,255,0.5)" stroke="rgba(0,0,0,0.52)"/><circle cx="780" cy="394.28" r="23.55" fill="rgba(255,255,255,0.5)" stroke="rgba(0,0,0,0.52)"/><circle cx="780" cy="508.12" r="23.55" fill="rgba(255,255,255,0.5)" stroke="rgba(0,0,0,0.52)"/><circle cx="780" cy="849.64" r="23.55" fill="rgba(255,255,255,0.5)" stroke="rgba(0,0,0,0.52)"/><circle cx="780" cy="906.56" r="23.55" fill="rgba(255,255,255,0.5)" stroke="rgba(0,0,0,0.52)"/><circle cx="780" cy="963.48" r="23.55" fill="rgba(255,255,255,0.5)" stroke="rgba(0,0,0,0.52)"/><circle cx="780" cy="1020.4" r="23.55" fill="rgba(255,255,255,0.5)" stroke="rgba(0,0,0,0.52)"/><circle cx="829.25" cy="223.52" r="23.55" fill="rgba(255,255,255,0.5)" stroke="rgba(0,0,0,0.52)"/><circle cx="829.25" cy="337.36" r="23.55" fill="rgba(255,255,255,0.5)" stroke="rgba(0,0,0,0.52)"/><circle cx="829.25" cy="394.28" r="23.55" fill="rgba(255,255,255,0.5)" stroke="rgba(0,0,0,0.52)"/><circle cx="829.25" cy="508.12" r="23.55" fill="rgba(255,255,255,0.5)" stroke="rgba(0,0,0,0.52)"/><circle cx="829.25" cy="849.64" r="23.55" fill="rgba(255,255,255,0.5)" stroke="rgba(0,0,0,0.52)"/><circle cx="829.25" cy="906.56" r="23.55" fill="rgba(255,255,255,0.5)" stroke="rgba(0,0,0,0.52)"/><circle cx="829.25" cy="963.48" r="23.55" fill="rgba(255,255,255,0.5)" stroke="rgba(0,0,0,0.52)"/><circle cx="829.25" cy="1020.4" r="23.55" fill="rgba(255,255,255,0.5)" stroke="rgba(0,0,0,0.52)"/><circle cx="878.5" cy="223.52" r="23.55" fill="rgba(229,189,185,0.75)" stroke="rgba(0,0,0,0.7)"/><circle cx="878.5" cy="337.36" r="23.55" fill="rgba(255,255,255,0.5)" stroke="rgba(0,0,0,0.52)"/><circle cx="878.5" cy="394.28" r="23.55" fill="rgba(255,255,255,0.5)" stroke="rgba(0,0,0,0.52)"/><circle cx="878.5" cy="508.12" r="23.55" fill="rgba(255,255,255,0.5)" stroke="rgba(0,0,0,0.52)"/><circle cx="878.5" cy="849.64" r="23.55" fill="rgba(255,255,255,0.5)" stroke="rgba(0,0,0,0.52)"/><circle cx="878.5" cy="906.56" r="23.55" fill="rgba(255,255,255,0.5)" stroke="rgba(0,0,0,0.52)"/><circle cx="878.5" cy="963.48" r="23.55" fill="rgba(255,255,255,0.5)" stroke="rgba(0,0,0,0.52)"/><circle cx="878.5" cy="1020.4" r="23.55" fill="rgba(255,255,255,0.5)" stroke="rgba(0,0,0,0.52)"/><circle cx="927.75" cy="280.44" r="23.55" fill="rgba(255,255,255,0.5)" stroke="rgba(0,0,0,0.52)"/><circle cx="927.75" cy="508.12" r="23.55" fill="rgba(255,255,255,0.5)" stroke="rgba(0,0,0,0.52)"/><circle cx="927.75" cy="621.96" r="23.55" fill="rgba(167,208,232,0.75)" stroke="rgba(0,0,0,0.7)"/><circle cx="977" cy="223.52" r="23.55" fill="rgba(255,255,255,0.5)" stroke="rgba(0,0,0,0.52)"/><circle cx="977" cy="337.36" r="23.55" fill="rgba(255,255,255,0.5)" stroke="rgba(0,0,0,0.52)"/><circle cx="977" cy="394.28" r="23.55" fill="rgba(255,255,255,0.5)" stroke="rgba(0,0,0,0.52)"/><circle cx="977" cy="508.12" r="23.55" fill="rgba(255,255,255,0.5)" stroke="rgba(0,0,0,0.52)"/><circle cx="977" cy="849.64" r="23.55" fill="rgba(255,255,255,0.5)" stroke="rgba(0,0,0,0.52)"/><circle cx="977" cy="906.56" r="23.55" fill="rgba(255,255,255,0.5)" stroke="rgba(0,0,0,0.52)"/><circle cx="977" cy="963.48" r="23.55" fill="rgba(255,255,255,0.5)" stroke="rgba(0,0,0,0.52)"/><circle cx="977" cy="1020.4" r="23.55" fill="rgba(255,255,255,0.5)" stroke="rgba(0,0,0,0.52)"/><circle cx="1026.25" cy="223.52" r="23.55" fill="rgba(255,255,255,0.5)" stroke="rgba(0,0,0,0.52)"/><circle cx="1026.25" cy="337.36" r="23.55" fill="rgba(255,255,255,0.5)" stroke="rgba(0,0,0,0.52)"/><circle cx="1026.25" cy="394.28" r="23.55" fill="rgba(255,255,255,0.5)" stroke="rgba(0,0,0,0.52)"/><circle cx="1026.25" cy="508.12" r="23.55" fill="rgba(167,208,232,0.75)" stroke="rgba(0,0,0,0.7)"/><circle cx="1026.25" cy="849.64" r="23.55" fill="rgba(255,255,255,0.5)" stroke="rgba(0,0,0,0.52)"/><circle cx="1026.25" cy="906.56" r="23.55" fill="rgba(255,255,255,0.5)" stroke="rgba(0,0,0,0.52)"/><circle cx="1026.25" cy="963.48" r="23.55" fill="rgba(255,255,255,0.5)" stroke="rgba(0,0,0,0.52)"/><circle cx="1026.25" cy="1020.4" r="23.55" fill="rgba(255,255,255,0.5)" stroke="rgba(0,0,0,0.52)"/><circle cx="1075.5" cy="223.52" r="23.55" fill="rgba(255,255,255,0.5)" stroke="rgba(0,0,0,0.52)"/><circle cx="1075.5" cy="337.36" r="23.55" fill="rgba(255,255,255,0.5)" stroke="rgba(0,0,0,0.52)"/><circle cx="1075.5" cy="394.28" r="23.55" fill="rgba(255,255,255,0.5)" stroke="rgba(0,0,0,0.52)"/><circle cx="1075.5" cy="508.12" r="23.55" fill="rgba(255,255,255,0.5)" stroke="rgba(0,0,0,0.52)"/><circle cx="1075.5" cy="565.04" r="23.55" fill="rgba(255,255,255,0.5)" stroke="rgba(0,0,0,0.52)"/><circle cx="1075.5" cy="906.56" r="23.55" fill="rgba(255,255,255,0.5)" stroke="rgba(0,0,0,0.52)"/><circle cx="1075.5" cy="963.48" r="23.55" fill="rgba(229,189,185,0.75)" stroke="rgba(0,0,0,0.7)"/><circle cx="1075.5" cy="1020.4" r="23.55" fill="rgba(229,189,185,0.75)" stroke="rgba(0,0,0,0.7)"/><circle cx="1124.75" cy="223.52" r="23.55" fill="rgba(167,208,232,0.75)" stroke="rgba(0,0,0,0.7)"/><circle cx="1124.75" cy="337.36" r="23.55" fill="rgba(255,255,255,0.5)" stroke="rgba(0,0,0,0.52)"/><circle cx="1124.75" cy="394.28" r="23.55" fill="rgba(255,255,255,0.5)" stroke="rgba(0,0,0,0.52)"/><circle cx="1124.75" cy="508.12" r="23.55" fill="rgba(255,255,255,0.5)" stroke="rgba(0,0,0,0.52)"/><circle cx="1124.75" cy="565.04" r="23.55" fill="rgba(255,255,255,0.5)" stroke="rgba(0,0,0,0.52)"/><circle cx="1124.75" cy="906.56" r="23.55" fill="rgba(255,255,255,0.5)" stroke="rgba(0,0,0,0.52)"/><circle cx="1124.75" cy="963.48" r="23.55" fill="rgba(255,255,255,0.5)" stroke="rgba(0,0,0,0.52)"/><circle cx="1124.75" cy="1020.4" r="23.55" fill="rgba(167,208,232,0.75)" stroke="rgba(0,0,0,0.7)"/><circle cx="1174" cy="166.6" r="23.55" fill="rgba(229,189,185,0.75)" stroke="rgba(0,0,0,0.7)"/><circle cx="1174" cy="337.36" r="23.55" fill="rgba(255,255,255,0.5)" stroke="rgba(0,0,0,0.52)"/><circle cx="1174" cy="394.28" r="23.55" fill="rgba(255,255,255,0.5)" stroke="rgba(0,0,0,0.52)"/><circle cx="1174" cy="508.12" r="23.55" fill="rgba(255,255,255,0.5)" stroke="rgba(0,0,0,0.52)"/><circle cx="1174" cy="849.64" r="23.55" fill="rgba(229,189,185,0.75)" stroke="rgba(0,0,0,0.7)"/><circle cx="1174" cy="906.56" r="23.55" fill="rgba(167,208,232,0.75)" stroke="rgba(0,0,0,0.7)"/><circle cx="1174" cy="963.48" r="23.55" fill="rgba(255,255,255,0.5)" stroke="rgba(0,0,0,0.52)"/><circle cx="1223.25" cy="337.36" r="23.55" fill="rgba(255,255,255,0.5)" stroke="rgba(0,0,0,0.52)"/><circle cx="1223.25" cy="394.28" r="23.55" fill="rgba(255,255,255,0.5)" stroke="rgba(0,0,0,0.52)"/><circle cx="1223.25" cy="508.12" r="23.55" fill="rgba(255,255,255,0.5)" stroke="rgba(0,0,0,0.52)"/><circle cx="1223.25" cy="849.64" r="23.55" fill="rgba(255,255,255,0.5)" stroke="rgba(0,0,0,0.52)"/><circle cx="1223.25" cy="906.56" r="23.55" fill="rgba(255,255,255,0.5)" stroke="rgba(0,0,0,0.52)"/><circle cx="1223.25" cy="963.48" r="23.55" fill="rgba(255,255,255,0.5)" stroke="rgba(0,0,0,0.52)"/><circle cx="1272.5" cy="394.28" r="23.55" fill="rgba(255,255,255,0.5)" stroke="rgba(0,0,0,0.52)"/><circle cx="1272.5" cy="508.12" r="23.55" fill="rgba(255,255,255,0.5)" stroke="rgba(0,0,0,0.52)"/><circle cx="1272.5" cy="621.96" r="23.55" fill="rgba(255,255,255,0.5)" stroke="rgba(0,0,0,0.52)"/><circle cx="1272.5" cy="735.8" r="23.55" fill="rgba(167,208,232,0.75)" stroke="rgba(0,0,0,0.7)"/><circle cx="1272.5" cy="906.56" r="23.55" fill="rgba(255,255,255,0.5)" stroke="rgba(0,0,0,0.52)"/><circle cx="1272.5" cy="963.48" r="23.55" fill="rgba(255,255,255,0.5)" stroke="rgba(0,0,0,0.52)"/><circle cx="1272.5" cy="1020.4" r="23.55" fill="rgba(255,255,255,0.5)" stroke="rgba(0,0,0,0.52)"/><circle cx="1321.75" cy="906.56" r="23.55" fill="rgba(167,208,232,0.75)" stroke="rgba(0,0,0,0.7)"/><circle cx="1321.75" cy="963.48" r="23.55" fill="rgba(167,208,232,0.75)" stroke="rgba(0,0,0,0.7)"/><circle cx="1371" cy="223.52" r="23.55" fill="rgba(255,255,255,0.5)" stroke="rgba(0,0,0,0.52)"/><circle cx="1371" cy="337.36" r="23.55" fill="rgba(255,255,255,0.5)" stroke="rgba(0,0,0,0.52)"/><circle cx="1371" cy="394.28" r="23.55" fill="rgba(255,255,255,0.5)" stroke="rgba(0,0,0,0.52)"/><circle cx="1371" cy="508.12" r="23.55" fill="rgba(255,255,255,0.5)" stroke="rgba(0,0,0,0.52)"/><circle cx="1371" cy="849.64" r="23.55" fill="rgba(255,255,255,0.5)" stroke="rgba(0,0,0,0.52)"/><circle cx="1371" cy="906.56" r="23.55" fill="rgba(255,255,255,0.5)" stroke="rgba(0,0,0,0.52)"/><circle cx="1371" cy="963.48" r="23.55" fill="rgba(255,255,255,0.5)" stroke="rgba(0,0,0,0.52)"/><circle cx="1371" cy="1020.4" r="23.55" fill="rgba(255,255,255,0.5)" stroke="rgba(0,0,0,0.52)"/><circle cx="1420.25" cy="223.52" r="23.55" fill="rgba(255,255,255,0.5)" stroke="rgba(0,0,0,0.52)"/><circle cx="1420.25" cy="337.36" r="23.55" fill="rgba(255,255,255,0.5)" stroke="rgba(0,0,0,0.52)"/><circle cx="1420.25" cy="394.28" r="23.55" fill="rgba(255,255,255,0.5)" stroke="rgba(0,0,0,0.52)"/><circle cx="1420.25" cy="508.12" r="23.55" fill="rgba(255,255,255,0.5)" stroke="rgba(0,0,0,0.52)"/><circle cx="1420.25" cy="849.64" r="23.55" fill="rgba(255,255,255,0.5)" stroke="rgba(0,0,0,0.52)"/><circle cx="1420.25" cy="906.56" r="23.55" fill="rgba(255,255,255,0.5)" stroke="rgba(0,0,0,0.52)"/><circle cx="1420.25" cy="963.48" r="23.55" fill="rgba(255,255,255,0.5)" stroke="rgba(0,0,0,0.52)"/><circle cx="1420.25" cy="1020.4" r="23.55" fill="rgba(255,255,255,0.5)" stroke="rgba(0,0,0,0.52)"/><circle cx="1469.5" cy="906.56" r="23.55" fill="rgba(255,255,255,0.5)" stroke="rgba(0,0,0,0.52)"/><circle cx="1518.75" cy="906.56" r="23.55" fill="rgba(255,255,255,0.5)" stroke="rgba(0,0,0,0.52)"/><circle cx="1568" cy="508.12" r="23.55" fill="rgba(255,255,255,0.5)" stroke="rgba(0,0,0,0.52)"/><circle cx="1568" cy="621.96" r="23.55" fill="rgba(255,255,255,0.5)" stroke="rgba(0,0,0,0.52)"/><circle cx="1568" cy="963.48" r="23.55" fill="rgba(255,255,255,0.5)" stroke="rgba(0,0,0,0.52)"/><circle cx="1617.25" cy="223.52" r="23.55" fill="rgba(255,255,255,0.5)" stroke="rgba(0,0,0,0.52)"/><circle cx="1617.25" cy="337.36" r="23.55" fill="rgba(255,255,255,0.5)" stroke="rgba(0,0,0,0.52)"/><circle cx="1617.25" cy="394.28" r="23.55" fill="rgba(255,255,255,0.5)" stroke="rgba(0,0,0,0.52)"/><circle cx="1617.25" cy="451.2" r="23.55" fill="rgba(255,255,255,0.5)" stroke="rgba(0,0,0,0.52)"/><circle cx="1617.25" cy="508.12" r="23.55" fill="rgba(167,208,232,0.75)" stroke="rgba(0,0,0,0.7)"/><circle cx="1617.25" cy="565.04" r="23.55" fill="rgba(255,255,255,0.5)" stroke="rgba(0,0,0,0.52)"/><circle cx="1617.25" cy="621.96" r="23.55" fill="rgba(255,255,255,0.5)" stroke="rgba(0,0,0,0.52)"/><circle cx="1617.25" cy="678.88" r="23.55" fill="rgba(255,255,255,0.5)" stroke="rgba(0,0,0,0.52)"/><circle cx="1617.25" cy="906.56" r="23.55" fill="rgba(255,255,255,0.5)" stroke="rgba(0,0,0,0.52)"/><circle cx="1617.25" cy="963.48" r="23.55" fill="rgba(255,255,255,0.5)" stroke="rgba(0,0,0,0.52)"/><circle cx="1617.25" cy="1020.4" r="23.55" fill="rgba(255,255,255,0.5)" stroke="rgba(0,0,0,0.52)"/><circle cx="1666.5" cy="394.28" r="23.55" fill="rgba(255,255,255,0.5)" stroke="rgba(0,0,0,0.52)"/><circle cx="1666.5" cy="508.12" r="23.55" fill="rgba(255,255,255,0.5)" stroke="rgba(0,0,0,0.52)"/><circle cx="1666.5" cy="906.56" r="23.55" fill="rgba(255,255,255,0.5)" stroke="rgba(0,0,0,0.52)"/><circle cx="1666.5" cy="963.48" r="23.55" fill="rgba(255,255,255,0.5)" stroke="rgba(0,0,0,0.52)"/><circle cx="1715.75" cy="394.28" r="23.55" fill="rgba(167,208,232,0.75)" stroke="rgba(0,0,0,0.7)"/><circle cx="1715.75" cy="508.12" r="23.55" fill="rgba(255,255,255,0.5)" stroke="rgba(0,0,0,0.52)"/><circle cx="1715.75" cy="906.56" r="23.55" fill="rgba(167,208,232,0.75)" stroke="rgba(0,0,0,0.7)"/><circle cx="1715.75" cy="963.48" r="23.55" fill="rgba(167,208,232,0.75)" stroke="rgba(0,0,0,0.7)"/><circle cx="1765" cy="223.52" r="23.55" fill="rgba(229,189,185,0.75)" stroke="rgba(0,0,0,0.7)"/><circle cx="1765" cy="337.36" r="23.55" fill="rgba(255,255,255,0.5)" stroke="rgba(0,0,0,0.52)"/><circle cx="1765" cy="451.2" r="23.55" fill="rgba(255,255,255,0.5)" stroke="rgba(0,0,0,0.52)"/><circle cx="1765" cy="508.12" r="23.55" fill="rgba(255,255,255,0.5)" stroke="rgba(0,0,0,0.52)"/><circle cx="1765" cy="621.96" r="23.55" fill="rgba(255,255,255,0.5)" stroke="rgba(0,0,0,0.52)"/><circle cx="1765" cy="678.88" r="23.55" fill="rgba(255,255,255,0.5)" stroke="rgba(0,0,0,0.52)"/><circle cx="1765" cy="792.72" r="23.55" fill="rgba(255,255,255,0.5)" stroke="rgba(0,0,0,0.52)"/><circle cx="1765" cy="906.56" r="23.55" fill="rgba(229,189,185,0.75)" stroke="rgba(0,0,0,0.7)"/><circle cx="1765" cy="963.48" r="23.55" fill="rgba(255,255,255,0.5)" stroke="rgba(0,0,0,0.52)"/><circle cx="1765" cy="1020.4" r="23.55" fill="rgba(229,189,185,0.75)" stroke="rgba(0,0,0,0.7)"/><circle cx="1814.25" cy="166.6" r="23.55" fill="rgba(255,255,255,0.5)" stroke="rgba(0,0,0,0.52)"/><circle cx="1814.25" cy="337.36" r="23.55" fill="rgba(255,255,255,0.5)" stroke="rgba(0,0,0,0.52)"/><circle cx="1814.25" cy="394.28" r="23.55" fill="rgba(255,255,255,0.5)" stroke="rgba(0,0,0,0.52)"/><circle cx="1814.25" cy="508.12" r="23.55" fill="rgba(255,255,255,0.5)" stroke="rgba(0,0,0,0.52)"/><circle cx="1814.25" cy="621.96" r="23.55" fill="rgba(229,189,185,0.75)" stroke="rgba(0,0,0,0.7)"/><circle cx="1814.25" cy="678.88" r="23.55" fill="rgba(255,255,255,0.5)" stroke="rgba(0,0,0,0.52)"/><circle cx="1814.25" cy="735.8" r="23.55" fill="rgba(255,255,255,0.5)" stroke="rgba(0,0,0,0.52)"/><circle cx="1814.25" cy="849.64" r="23.55" fill="rgba(255,255,255,0.5)" stroke="rgba(0,0,0,0.52)"/><circle cx="1814.25" cy="906.56" r="23.55" fill="rgba(255,255,255,0.5)" stroke="rgba(0,0,0,0.52)"/><circle cx="1814.25" cy="963.48" r="23.55" fill="rgba(255,255,255,0.5)" stroke="rgba(0,0,0,0.52)"/><circle cx="1814.25" cy="1020.4" r="23.55" fill="rgba(255,255,255,0.5)" stroke="rgba(0,0,0,0.52)"/><circle cx="1863.5" cy="394.28" r="23.55" fill="rgba(255,255,255,0.5)" stroke="rgba(0,0,0,0.52)"/><circle cx="1863.5" cy="508.12" r="23.55" fill="rgba(255,255,255,0.5)" stroke="rgba(0,0,0,0.52)"/><circle cx="1863.5" cy="621.96" r="23.55" fill="rgba(229,189,185,0.75)" stroke="rgba(0,0,0,0.7)"/><circle cx="1863.5" cy="849.64" r="23.55" fill="rgba(255,255,255,0.5)" stroke="rgba(0,0,0,0.52)"/><circle cx="1863.5" cy="906.56" r="23.55" fill="rgba(255,255,255,0.5)" stroke="rgba(0,0,0,0.52)"/><circle cx="1863.5" cy="963.48" r="23.55" fill="rgba(255,255,255,0.5)" stroke="rgba(0,0,0,0.52)"/><circle cx="1863.5" cy="1020.4" r="23.55" fill="rgba(255,255,255,0.5)" stroke="rgba(0,0,0,0.52)"/><circle cx="1912.75" cy="394.28" r="23.55" fill="rgba(255,255,255,0.5)" stroke="rgba(0,0,0,0.52)"/><circle cx="1912.75" cy="508.12" r="23.55" fill="rgba(229,189,185,0.75)" stroke="rgba(0,0,0,0.7)"/><circle cx="1912.75" cy="621.96" r="23.55" fill="rgba(229,189,185,0.75)" stroke="rgba(0,0,0,0.7)"/><circle cx="1912.75" cy="849.64" r="23.55" fill="rgba(229,189,185,0.75)" stroke="rgba(0,0,0,0.7)"/><circle cx="1912.75" cy="906.56" r="23.55" fill="rgba(229,189,185,0.75)" stroke="rgba(0,0,0,0.7)"/><circle cx="1912.75" cy="963.48" r="23.55" fill="rgba(255,255,255,0.5)" stroke="rgba(0,0,0,0.52)"/><circle cx="1912.75" cy="1020.4" r="23.55" fill="rgba(255,255,255,0.5)" stroke="rgba(0,0,0,0.52)"/><circle cx="1962" cy="621.96" r="23.55" fill="rgba(229,189,185,0.75)" stroke="rgba(0,0,0,0.7)"/><circle cx="2011.25" cy="621.96" r="23.55" fill="rgba(255,255,255,0.5)" stroke="rgba(0,0,0,0.52)"/><circle cx="2060.5" cy="621.96" r="23.55" fill="rgba(255,255,255,0.5)" stroke="rgba(0,0,0,0.52)"/><circle cx="2109.75" cy="621.96" r="23.55" fill="rgba(255,255,255,0.5)" stroke="rgba(0,0,0,0.52)"/><circle cx="2159" cy="621.96" r="23.55" fill="rgba(167,208,232,0.75)" stroke="rgba(0,0,0,0.7)"/><circle cx="2208.25" cy="621.96" r="23.55" fill="rgba(255,255,255,0.5)" stroke="rgba(0,0,0,0.52)"/><circle cx="2257.5" cy="337.36" r="23.55" fill="rgba(255,255,255,0.5)" stroke="rgba(0,0,0,0.52)"/><circle cx="2257.5" cy="394.28" r="23.55" fill="rgba(255,255,255,0.5)" stroke="rgba(0,0,0,0.52)"/><circle cx="2257.5" cy="621.96" r="23.55" fill="rgba(167,208,232,0.75)" stroke="rgba(0,0,0,0.7)"/><circle cx="2257.5" cy="735.8" r="23.55" fill="rgba(255,255,255,0.5)" stroke="rgba(0,0,0,0.52)"/><circle cx="2257.5" cy="849.64" r="23.55" fill="rgba(255,255,255,0.5)" stroke="rgba(0,0,0,0.52)"/><circle cx="2257.5" cy="906.56" r="23.55" fill="rgba(255,255,255,0.5)" stroke="rgba(0,0,0,0.52)"/><circle cx="2257.5" cy="963.48" r="23.55" fill="rgba(255,255,255,0.5)" stroke="rgba(0,0,0,0.52)"/><circle cx="2306.75" cy="394.28" r="23.55" fill="rgba(255,255,255,0.5)" stroke="rgba(0,0,0,0.52)"/><circle cx="2306.75" cy="621.96" r="23.55" fill="rgba(167,208,232,0.75)" stroke="rgba(0,0,0,0.7)"/><circle cx="2306.75" cy="735.8" r="23.55" fill="rgba(255,255,255,0.5)" stroke="rgba(0,0,0,0.52)"/><circle cx="2306.75" cy="849.64" r="23.55" fill="rgba(255,255,255,0.5)" stroke="rgba(0,0,0,0.52)"/><circle cx="2306.75" cy="906.56" r="23.55" fill="rgba(255,255,255,0.5)" stroke="rgba(0,0,0,0.52)"/><circle cx="2306.75" cy="963.48" r="23.55" fill="rgba(255,255,255,0.5)" stroke="rgba(0,0,0,0.52)"/><circle cx="2306.75" cy="1020.4" r="23.55" fill="rgba(255,255,255,0.5)" stroke="rgba(0,0,0,0.52)"/><circle cx="2356" cy="394.28" r="23.55" fill="rgba(167,208,232,0.75)" stroke="rgba(0,0,0,0.7)"/><circle cx="2356" cy="621.96" r="23.55" fill="rgba(167,208,232,0.75)" stroke="rgba(0,0,0,0.7)"/><circle cx="2356" cy="735.8" r="23.55" fill="rgba(255,255,255,0.5)" stroke="rgba(0,0,0,0.52)"/><circle cx="2356" cy="906.56" r="23.55" fill="rgba(167,208,232,0.75)" stroke="rgba(0,0,0,0.7)"/><circle cx="2356" cy="963.48" r="23.55" fill="rgba(167,208,232,0.75)" stroke="rgba(0,0,0,0.7)"/><circle cx="2356" cy="1020.4" r="23.55" fill="rgba(255,255,255,0.5)" stroke="rgba(0,0,0,0.52)"/><circle cx="2405.25" cy="394.28" r="23.55" fill="rgba(255,255,255,0.5)" stroke="rgba(0,0,0,0.52)"/><circle cx="2405.25" cy="621.96" r="23.55" fill="rgba(255,255,255,0.5)" stroke="rgba(0,0,0,0.52)"/><circle cx="2405.25" cy="735.8" r="23.55" fill="rgba(255,255,255,0.5)" stroke="rgba(0,0,0,0.52)"/><circle cx="2405.25" cy="906.56" r="23.55" fill="rgba(255,255,255,0.5)" stroke="rgba(0,0,0,0.52)"/><circle cx="2405.25" cy="963.48" r="23.55" fill="rgba(255,255,255,0.5)" stroke="rgba(0,0,0,0.52)"/><circle cx="2405.25" cy="1020.4" r="23.55" fill="rgba(167,208,232,0.75)" stroke="rgba(0,0,0,0.7)"/><circle cx="2454.5" cy="394.28" r="23.55" fill="rgba(255,255,255,0.5)" stroke="rgba(0,0,0,0.52)"/><circle cx="2454.5" cy="508.12" r="23.55" fill="rgba(255,255,255,0.5)" stroke="rgba(0,0,0,0.52)"/><circle cx="2454.5" cy="621.96" r="23.55" fill="rgba(255,255,255,0.5)" stroke="rgba(0,0,0,0.52)"/><circle cx="2454.5" cy="906.56" r="23.55" fill="rgba(255,255,255,0.5)" stroke="rgba(0,0,0,0.52)"/><circle cx="2454.5" cy="963.48" r="23.55" fill="rgba(255,255,255,0.5)" stroke="rgba(0,0,0,0.52)"/><circle cx="2503.75" cy="394.28" r="23.55" fill="rgba(255,255,255,0.5)" stroke="rgba(0,0,0,0.52)"/><circle cx="2503.75" cy="508.12" r="23.55" fill="rgba(255,255,255,0.5)" stroke="rgba(0,0,0,0.52)"/><circle cx="2503.75" cy="621.96" r="23.55" fill="rgba(255,255,255,0.5)" stroke="rgba(0,0,0,0.52)"/><circle cx="2503.75" cy="906.56" r="23.55" fill="rgba(167,208,232,0.75)" stroke="rgba(0,0,0,0.7)"/><circle cx="2503.75" cy="963.48" r="23.55" fill="rgba(255,255,255,0.5)" stroke="rgba(0,0,0,0.52)"/><circle cx="2553" cy="394.28" r="23.55" fill="rgba(229,189,185,0.75)" stroke="rgba(0,0,0,0.7)"/><circle cx="2553" cy="621.96" r="23.55" fill="rgba(229,189,185,0.75)" stroke="rgba(0,0,0,0.7)"/><circle cx="2553" cy="906.56" r="23.55" fill="rgba(229,189,185,0.75)" stroke="rgba(0,0,0,0.7)"/><circle cx="2602.25" cy="621.96" r="23.55" fill="rgba(255,255,255,0.5)" stroke="rgba(0,0,0,0.52)"/><circle cx="2651.5" cy="621.96" r="23.55" fill="rgba(255,255,255,0.5)" stroke="rgba(0,0,0,0.52)"/><circle cx="2700.75" cy="621.96" r="23.55" fill="rgba(167,208,232,0.75)" stroke="rgba(0,0,0,0.7)"/><circle cx="2750" cy="621.96" r="23.55" fill="rgba(255,255,255,0.5)" stroke="rgba(0,0,0,0.52)"/><circle cx="2799.25" cy="621.96" r="23.55" fill="rgba(167,208,232,0.75)" stroke="rgba(0,0,0,0.7)"/><circle cx="2848.5" cy="621.96" r="23.55" fill="rgba(229,189,185,0.75)" stroke="rgba(0,0,0,0.7)"/><circle cx="2897.75" cy="166.6" r="23.55" fill="rgba(255,255,255,0.5)" stroke="rgba(0,0,0,0.52)"/><circle cx="2897.75" cy="394.28" r="23.55" fill="rgba(255,255,255,0.5)" stroke="rgba(0,0,0,0.52)"/><circle cx="2897.75" cy="508.12" r="23.55" fill="rgba(255,255,255,0.5)" stroke="rgba(0,0,0,0.52)"/><circle cx="2897.75" cy="621.96" r="23.55" fill="rgba(167,208,232,0.75)" stroke="rgba(0,0,0,0.7)"/><circle cx="2897.75" cy="735.8" r="23.55" fill="rgba(255,255,255,0.5)" stroke="rgba(0,0,0,0.52)"/><circle cx="2897.75" cy="849.64" r="23.55" fill="rgba(255,255,255,0.5)" stroke="rgba(0,0,0,0.52)"/><circle cx="2897.75" cy="906.56" r="23.55" fill="rgba(167,208,232,0.75)" stroke="rgba(0,0,0,0.7)"/><circle cx="2897.75" cy="963.48" r="23.55" fill="rgba(255,255,255,0.5)" stroke="rgba(0,0,0,0.52)"/><circle cx="2897.75" cy="1020.4" r="23.55" fill="rgba(255,255,255,0.5)" stroke="rgba(0,0,0,0.52)"/><circle cx="2947" cy="166.6" r="23.55" fill="rgba(255,255,255,0.5)" stroke="rgba(0,0,0,0.52)"/><circle cx="2947" cy="337.36" r="23.55" fill="rgba(255,255,255,0.5)" stroke="rgba(0,0,0,0.52)"/><circle cx="2947" cy="394.28" r="23.55" fill="rgba(167,208,232,0.75)" stroke="rgba(0,0,0,0.7)"/><circle cx="2947" cy="508.12" r="23.55" fill="rgba(167,208,232,0.75)" stroke="rgba(0,0,0,0.7)"/><circle cx="2947" cy="621.96" r="23.55" fill="rgba(255,255,255,0.5)" stroke="rgba(0,0,0,0.52)"/><circle cx="2947" cy="735.8" r="23.55" fill="rgba(255,255,255,0.5)" stroke="rgba(0,0,0,0.52)"/><circle cx="2947" cy="849.64" r="23.55" fill="rgba(167,208,232,0.75)" stroke="rgba(0,0,0,0.7)"/><circle cx="2947" cy="906.56" r="23.55" fill="rgba(255,255,255,0.5)" stroke="rgba(0,0,0,0.52)"/><circle cx="2947" cy="963.48" r="23.55" fill="rgba(255,255,255,0.5)" stroke="rgba(0,0,0,0.52)"/><circle cx="2947" cy="1020.4" r="23.55" fill="rgba(167,208,232,0.75)" stroke="rgba(0,0,0,0.7)"/><circle cx="2996.25" cy="621.96" r="23.55" fill="rgba(167,208,232,0.75)" stroke="rgba(0,0,0,0.7)"/><circle cx="3045.5" cy="621.96" r="23.55" fill="rgba(167,208,232,0.75)" stroke="rgba(0,0,0,0.7)"/><circle cx="3094.75" cy="621.96" r="23.55" fill="rgba(167,208,232,0.75)" stroke="rgba(0,0,0,0.7)"/><circle cx="3144" cy="621.96" r="23.55" fill="rgba(167,208,232,0.75)" stroke="rgba(0,0,0,0.7)"/><circle cx="3193.25" cy="621.96" r="23.55" fill="rgba(167,208,232,0.75)" stroke="rgba(0,0,0,0.7)"/></g>
<path d="M707.26 164.96A23.55 23.55 0 0 0 707.26 168.24M1790.76 164.96A23.55 23.55 0 0 0 1790.76 168.24M2874.26 164.96A23.55 23.55 0 0 0 2874.26 168.24M2923.51 164.96A23.55 23.55 0 0 0 2923.51 168.24M707.26 221.88A23.55 23.55 0 0 0 707.26 225.16M756.51 221.88A23.55 23.55 0 0 0 756.51 225.16M805.76 221.88A23.55 23.55 0 0 0 805.76 225.16M953.51 221.88A23.55 23.55 0 0 0 953.51 225.16M1002.76 221.88A23.55 23.55 0 0 0 1002.76 225.16M1052.01 221.88A23.55 23.55 0 0 0 1052.01 225.16M1347.51 221.88A23.55 23.55 0 0 0 1347.51 225.16M1396.76 221.88A23.55 23.55 0 0 0 1396.76 225.16M1593.76 221.88A23.55 23.55 0 0 0 1593.76 225.16M904.26 278.8A23.55 23.55 0 0 0 904.26 282.08M707.26 335.72A23.55 23.55 0 0 0 707.26 339M756.51 335.72A23.55 23.55 0 0 0 756.51 339M805.76 335.72A23.55 23.55 0 0 0 805.76 339M855.01 335.72A23.55 23.55 0 0 0 855.01 339M953.51 335.72A23.55 23.55 0 0 0 953.51 339M1002.76 335.72A23.55 23.55 0 0 0 1002.76 339M1052.01 335.72A23.55 23.55 0 0 0 1052.01 339M1101.26 335.72A23.55 23.55 0 0 0 1101.26 339M1150.51 335.72A23.55 23.55 0 0 0 1150.51 339M1199.76 335.72A23.55 23.55 0 0 0 1199.76 339M1347.51 335.72A23.55 23.55 0 0 0 1347.51 339M1396.76 335.72A23.55 23.55 0 0 0 1396.76 339M1593.76 335.72A23.55 23.55 0 0 0 1593.76 339M1741.51 335.72A23.55 23.55 0 0 0 1741.51 339M1790.76 335.72A23.55 23.55 0 0 0 1790.76 339M2234.01 335.72A23.55 23.55 0 0 0 2234.01 339M2923.51 335.72A23.55 23.55 0 0 0 2923.51 339M707.26 392.64A23.55 23.55 0 0 0 707.26 395.92M756.51 392.64A23.55 23.55 0 0 0 756.51 395.92M805.76 392.64A23.55 23.55 0 0 0 805.76 395.92M855.01 392.64A23.55 23.55 0 0 0 855.01 395.92M953.51 392.64A23.55 23.55 0 0 0 953.51 395.92M1002.76 392.64A23.55 23.55 0 0 0 1002.76 395.92M1052.01 392.64A23.55 23.55 0 0 0 1052.01 395.92M1101.26 392.64A23.55 23.55 0 0 0 1101.26 395.92M1150.51 392.64A23.55 23.55 0 0 0 1150.51 395.92M1199.76 392.64A23.55 23.55 0 0 0 1199.76 395.92M1249.01 392.64A23.55 23.55 0 0 0 1249.01 395.92M1347.51 392.64A23.55 23.55 0 0 0 1347.51 395.92M1396.76 392.64A23.55 23.55 0 0 0 1396.76 395.92M1593.76 392.64A23.55 23.55 0 0 0 1593.76 395.92M1643.01 392.64A23.55 23.55 0 0 0 1643.01 395.92M1790.76 392.64A23.55 23.55 0 0 0 1790.76 395.92M1840.01 392.64A23.55 23.55 0 0 0 1840.01 395.92M1889.26 392.64A23.55 23.55 0 0 0 1889.26 395.92M2234.01 392.64A23.55 23.55 0 0 0 2234.01 395.92M2283.26 392.64A23.55 23.55 0 0 0 2283.26 395.92M2381.76 392.64A23.55 23.55 0 0 0 2381.76 395.92M2431.01 392.64A23.55 23.55 0 0 0 2431.01 395.92M2480.26 392.64A23.55 23.55 0 0 0 2480.26 395.92M2874.26 392.64A23.55 23.55 0 0 0 2874.26 395.92M1593.76 449.56A23.55 23.55 0 0 0 1593.76 452.84M1741.51 449.56A23.55 23.55 0 0 0 1741.51 452.84M707.26 506.48A23.55 23.55 0 0 0 707.26 509.76M756.51 506.48A23.55 23.55 0 0 0 756.51 509.76M805.76 506.48A23.55 23.55 0 0 0 805.76 509.76M855.01 506.48A23.55 23.55 0 0 0 855.01 509.76M904.26 506.48A23.55 23.55 0 0 0 904.26 509.76M953.51 506.48A23.55 23.55 0 0 0 953.51 509.76M1052.01 506.48A23.55 23.55 0 0 0 1052.01 509.76M1101.26 506.48A23.55 23.55 0 0 0 1101.26 509.76M1150.51 506.48A23.55 23.55 0 0 0 1150.51 509.76M1199.76 506.48A23.55 23.55 0 0 0 1199.76 509.76M1249.01 506.48A23.55 23.55 0 0 0 1249.01 509.76M1347.51 506.48A23.55 23.55 0 0 0 1347.51 509.76M1396.76 506.48A23.55 23.55 0 0 0 1396.76 509.76M1544.51 506.48A23.55 23.55 0 0 0 1544.51 509.76M1643.01 506.48A23.55 23.55 0 0 0 1643.01 509.76M1692.26 506.48A23.55 23.55 0 0 0 1692.26 509.76M1741.51 506.48A23.55 23.55 0 0 0 1741.51 509.76M1790.76 506.48A23.55 23.55 0 0 0 1790.76 509.76M1840.01 506.48A23.55 23.55 0 0 0 1840.01 509.76M2431.01 506.48A23.55 23.55 0 0 0 2431.01 509.76M2480.26 506.48A23.55 23.55 0 0 0 2480.26 509.76M2874.26 506.48A23.55 23.55 0 0 0 2874.26 509.76M1052.01 563.4A23.55 23.55 0 0 0 1052.01 566.68M1101.26 563.4A23.55 23.55 0 0 0 1101.26 566.68M1593.76 563.4A23.55 23.55 0 0 0 1593.76 566.68M461.01 620.32A23.55 23.55 0 0 0 461.01 623.6M559.51 620.32A23.55 23.55 0 0 0 559.51 623.6M608.76 620.32A23.55 23.55 0 0 0 608.76 623.6M1249.01 620.32A23.55 23.55 0 0 0 1249.01 623.6M1544.51 620.32A23.55 23.55 0 0 0 1544.51 623.6M1593.76 620.32A23.55 23.55 0 0 0 1593.76 623.6M1741.51 620.32A23.55 23.55 0 0 0 1741.51 623.6M1987.76 620.32A23.55 23.55 0 0 0 1987.76 623.6M2037.01 620.32A23.55 23.55 0 0 0 2037.01 623.6M2086.26 620.32A23.55 23.55 0 0 0 2086.26 623.6M2184.76 620.32A23.55 23.55 0 0 0 2184.76 623.6M2381.76 620.32A23.55 23.55 0 0 0 2381.76 623.6M2431.01 620.32A23.55 23.55 0 0 0 2431.01 623.6M2480.26 620.32A23.55 23.55 0 0 0 2480.26 623.6M2578.76 620.32A23.55 23.55 0 0 0 2578.76 623.6M2628.01 620.32A23.55 23.55 0 0 0 2628.01 623.6M2726.51 620.32A23.55 23.55 0 0 0 2726.51 623.6M2923.51 620.32A23.55 23.55 0 0 0 2923.51 623.6M1593.76 677.24A23.55 23.55 0 0 0 1593.76 680.52M1741.51 677.24A23.55 23.55 0 0 0 1741.51 680.52M1790.76 677.24A23.55 23.55 0 0 0 1790.76 680.52M1790.76 734.16A23.55 23.55 0 0 0 1790.76 737.44M2234.01 734.16A23.55 23.55 0 0 0 2234.01 737.44M2283.26 734.16A23.55 23.55 0 0 0 2283.26 737.44M2332.51 734.16A23.55 23.55 0 0 0 2332.51 737.44M2381.76 734.16A23.55 23.55 0 0 0 2381.76 737.44M2874.26 734.16A23.55 23.55 0 0 0 2874.26 737.44M2923.51 734.16A23.55 23.55 0 0 0 2923.51 737.44M1741.51 791.08A23.55 23.55 0 0 0 1741.51 794.36M756.51 848A23.55 23.55 0 0 0 756.51 851.28M805.76 848A23.55 23.55 0 0 0 805.76 851.28M855.01 848A23.55 23.55 0 0 0 855.01 851.28M953.51 848A23.55 23.55 0 0 0 953.51 851.28M1002.76 848A23.55 23.55 0 0 0 1002.76 851.28M1199.76 848A23.55 23.55 0 0 0 1199.76 851.28M1347.51 848A23.55 23.55 0 0 0 1347.51 851.28M1396.76 848A23.55 23.55 0 0 0 1396.76 851.28M1790.76 848A23.55 23.55 0 0 0 1790.76 851.28M1840.01 848A23.55 23.55 0 0 0 1840.01 851.28M2234.01 848A23.55 23.55 0 0 0 2234.01 851.28M2283.26 848A23.55 23.55 0 0 0 2283.26 851.28M2874.26 848A23.55 23.55 0 0 0 2874.26 851.28M756.51 904.92A23.55 23.55 0 0 0 756.51 908.2M805.76 904.92A23.55 23.55 0 0 0 805.76 908.2M855.01 904.92A23.55 23.55 0 0 0 855.01 908.2M953.51 904.92A23.55 23.55 0 0 0 953.51 908.2M1002.76 904.92A23.55 23.55 0 0 0 1002.76 908.2M1052.01 904.92A23.55 23.55 0 0 0 1052.01 908.2M1101.26 904.92A23.55 23.55 0 0 0 1101.26 908.2M1199.76 904.92A23.55 23.55 0 0 0 1199.76 908.2M1249.01 904.92A23.55 23.55 0 0 0 1249.01 908.2M1347.51 904.92A23.55 23.55 0 0 0 1347.51 908.2M1396.76 904.92A23.55 23.55 0 0 0 1396.76 908.2M1446.01 904.92A23.55 23.55 0 0 0 1446.01 908.2M1495.26 904.92A23.55 23.55 0 0 0 1495.26 908.2M1593.76 904.92A23.55 23.55 0 0 0 1593.76 908.2M1643.01 904.92A23.55 23.55 0 0 0 1643.01 908.2M1790.76 904.92A23.55 23.55 0 0 0 1790.76 908.2M1840.01 904.92A23.55 23.55 0 0 0 1840.01 908.2M2234.01 904.92A23.55 23.55 0 0 0 2234.01 908.2M2283.26 904.92A23.55 23.55 0 0 0 2283.26 908.2M2381.76 904.92A23.55 23.55 0 0 0 2381.76 908.2M2431.01 904.92A23.55 23.55 0 0 0 2431.01 908.2M2923.51 904.92A23.55 23.55 0 0 0 2923.51 908.2M707.26 961.84A23.55 23.55 0 0 0 707.26 965.12M756.51 961.84A23.55 23.55 0 0 0 756.51 965.12M805.76 961.84A23.55 23.55 0 0 0 805.76 965.12M855.01 961.84A23.55 23.55 0 0 0 855.01 965.12M953.51 961.84A23.55 23.55 0 0 0 953.51 965.12M1002.76 961.84A23.55 23.55 0 0 0 1002.76 965.12M1101.26 961.84A23.55 23.55 0 0 0 1101.26 965.12M1150.51 961.84A23.55 23.55 0 0 0 1150.51 965.12M1199.76 961.84A23.55 23.55 0 0 0 1199.76 965.12M1249.01 961.84A23.55 23.55 0 0 0 1249.01 965.12M1347.51 961.84A23.55 23.55 0 0 0 1347.51 965.12M1396.76 961.84A23.55 23.55 0 0 0 1396.76 965.12M1544.51 961.84A23.55 23.55 0 0 0 1544.51 965.12M1593.76 961.84A23.55 23.55 0 0 0 1593.76 965.12M1643.01 961.84A23.55 23.55 0 0 0 1643.01 965.12M1741.51 961.84A23.55 23.55 0 0 0 1741.51 965.12M1790.76 961.84A23.55 23.55 0 0 0 1790.76 965.12M1840.01 961.84A23.55 23.55 0 0 0 1840.01 965.12M1889.26 961.84A23.55 23.55 0 0 0 1889.26 965.12M2234.01 961.84A23.55 23.55 0 0 0 2234.01 965.12M2283.26 961.84A23.55 23.55 0 0 0 2283.26 965.12M2381.76 961.84A23.55 23.55 0 0 0 2381.76 965.12M2431.01 961.84A23.55 23.55 0 0 0 2431.01 965.12M2480.26 961.84A23.55 23.55 0 0 0 2480.26 965.12M2874.26 961.84A23.55 23.55 0 0 0 2874.26 965.12M2923.51 961.84A23.55 23.55 0 0 0 2923.51 965.12M707.26 1018.76A23.55 23.55 0 0 0 707.26 1022.04M756.51 1018.76A23.55 23.55 0 0 0 756.51 1022.04M805.76 1018.76A23.55 23.55 0 0 0 805.76 1022.04M855.01 1018.76A23.55 23.55 0 0 0 855.01 1022.04M953.51 1018.76A23.55 23.55 0 0 0 953.51 1022.04M1002.76 1018.76A23.55 23.55 0 0 0 1002.76 1022.04M1249.01 1018.76A23.55 23.55 0 0 0 1249.01 1022.04M1347.51 1018.76A23.55 23.55 0 0 0 1347.51 1022.04M1396.76 1018.76A23.55 23.55 0 0 0 1396.76 1022.04M1593.76 1018.76A23.55 23.55 0 0 0 1593.76 1022.04M1790.76 1018.76A23.55 23.55 0 0 0 1790.76 1022.04M1840.01 1018.76A23.55 23.55 0 0 0 1840.01 1022.04M1889.26 1018.76A23.55 23.55 0 0 0 1889.26 1022.04M2283.26 1018.76A23.55 23.55 0 0 0 2283.26 1022.04M2332.51 1018.76A23.55 23.55 0 0 0 2332.51 1022.04M2874.26 1018.76A23.55 23.55 0 0 0 2874.26 1022.04" fill="none" stroke="rgba(0,0,0,0.52)" stroke-width="3.4"/>
<path d="M1150.51 164.96A23.55 23.55 0 0 0 1150.51 168.24M855.01 221.88A23.55 23.55 0 0 0 855.01 225.16M1741.51 221.88A23.55 23.55 0 0 0 1741.51 225.16M2529.51 392.64A23.55 23.55 0 0 0 2529.51 395.92M1889.26 506.48A23.55 23.55 0 0 0 1889.26 509.76M510.26 620.32A23.55 23.55 0 0 0 510.26 623.6M658.01 620.32A23.55 23.55 0 0 0 658.01 623.6M1790.76 620.32A23.55 23.55 0 0 0 1790.76 623.6M1840.01 620.32A23.55 23.55 0 0 0 1840.01 623.6M1889.26 620.32A23.55 23.55 0 0 0 1889.26 623.6M1938.51 620.32A23.55 23.55 0 0 0 1938.51 623.6M2529.51 620.32A23.55 23.55 0 0 0 2529.51 623.6M2825.01 620.32A23.55 23.55 0 0 0 2825.01 623.6M707.26 848A23.55 23.55 0 0 0 707.26 851.28M1150.51 848A23.55 23.55 0 0 0 1150.51 851.28M1889.26 848A23.55 23.55 0 0 0 1889.26 851.28M707.26 904.92A23.55 23.55 0 0 0 707.26 908.2M1741.51 904.92A23.55 23.55 0 0 0 1741.51 908.2M1889.26 904.92A23.55 23.55 0 0 0 1889.26 908.2M2529.51 904.92A23.55 23.55 0 0 0 2529.51 908.2M1052.01 961.84A23.55 23.55 0 0 0 1052.01 965.12M1052.01 1018.76A23.55 23.55 0 0 0 1052.01 1022.04M1741.51 1018.76A23.55 23.55 0 0 0 1741.51 1022.04" fill="none" stroke="rgba(0,0,0,0.7)" stroke-width="3.4"/>
<path d="M1101.26 221.88A23.55 23.55 0 0 0 1101.26 225.16M1692.26 392.64A23.55 23.55 0 0 0 1692.26 395.92M2332.51 392.64A23.55 23.55 0 0 0 2332.51 395.92M2923.51 392.64A23.55 23.55 0 0 0 2923.51 395.92M1002.76 506.48A23.55 23.55 0 0 0 1002.76 509.76M1593.76 506.48A23.55 23.55 0 0 0 1593.76 509.76M2923.51 506.48A23.55 23.55 0 0 0 2923.51 509.76M904.26 620.32A23.55 23.55 0 0 0 904.26 623.6M2135.51 620.32A23.55 23.55 0 0 0 2135.51 623.6M2234.01 620.32A23.55 23.55 0 0 0 2234.01 623.6M2283.26 620.32A23.55 23.55 0 0 0 2283.26 623.6M2332.51 620.32A23.55 23.55 0 0 0 2332.51 623.6M2677.26 620.32A23.55 23.55 0 0 0 2677.26 623.6M2775.76 620.32A23.55 23.55 0 0 0 2775.76 623.6M2874.26 620.32A23.55 23.55 0 0 0 2874.26 623.6M2972.76 620.32A23.55 23.55 0 0 0 2972.76 623.6M3022.01 620.32A23.55 23.55 0 0 0 3022.01 623.6M3071.26 620.32A23.55 23.55 0 0 0 3071.26 623.6M3120.51 620.32A23.55 23.55 0 0 0 3120.51 623.6M3169.76 620.32A23.55 23.55 0 0 0 3169.76 623.6M1249.01 734.16A23.55 23.55 0 0 0 1249.01 737.44M2923.51 848A23.55 23.55 0 0 0 2923.51 851.28M1150.51 904.92A23.55 23.55 0 0 0 1150.51 908.2M1298.26 904.92A23.55 23.55 0 0 0 1298.26 908.2M1692.26 904.92A23.55 23.55 0 0 0 1692.26 908.2M2332.51 904.92A23.55 23.55 0 0 0 2332.51 908.2M2480.26 904.92A23.55 23.55 0 0 0 2480.26 908.2M2874.26 904.92A23.55 23.55 0 0 0 2874.26 908.2M1298.26 961.84A23.55 23.55 0 0 0 1298.26 965.12M1692.26 961.84A23.55 23.55 0 0 0 1692.26 965.12M2332.51 961.84A23.55 23.55 0 0 0 2332.51 965.12M1101.26 1018.76A23.55 23.55 0 0 0 1101.26 1022.04M2381.76 1018.76A23.55 23.55 0 0 0 2381.76 1022.04M2923.51 1018.76A23.55 23.55 0 0 0 2923.51 1022.04" fill="none" stroke="rgba(0,0,0,0.7)" stroke-width="3.4"/>
<rect x="435.2" y="132.7" width="2787.4" height="921.7" fill="none" stroke="#000" stroke-width="4.6"/>
<path d="M423.6 166.6H435.2M423.6 223.52H435.2M423.6 280.44H435.2M423.6 337.36H435.2M423.6 394.28H435.2M423.6 451.2H435.2M423.6 508.12H435.2M423.6 565.04H435.2M423.6 621.96H435.2M423.6 678.88H435.2M423.6 735.8H435.2M423.6 792.72H435.2M423.6 849.64H435.2M423.6 906.56H435.2M423.6 963.48H435.2M423.6 1020.4H435.2M484.5 1054.4V1065.8M533.75 1054.4V1065.8M583 1054.4V1065.8M632.25 1054.4V1065.8M681.5 1054.4V1065.8M730.75 1054.4V1065.8M780 1054.4V1065.8M829.25 1054.4V1065.8M878.5 1054.4V1065.8M927.75 1054.4V1065.8M977 1054.4V1065.8M1026.25 1054.4V1065.8M1075.5 1054.4V1065.8M1124.75 1054.4V1065.8M1174 1054.4V1065.8M1223.25 1054.4V1065.8M1272.5 1054.4V1065.8M1321.75 1054.4V1065.8M1371 1054.4V1065.8M1420.25 1054.4V1065.8M1469.5 1054.4V1065.8M1518.75 1054.4V1065.8M1568 1054.4V1065.8M1617.25 1054.4V1065.8M1666.5 1054.4V1065.8M1715.75 1054.4V1065.8M1765 1054.4V1065.8M1814.25 1054.4V1065.8M1863.5 1054.4V1065.8M1912.75 1054.4V1065.8M1962 1054.4V1065.8M2011.25 1054.4V1065.8M2060.5 1054.4V1065.8M2109.75 1054.4V1065.8M2159 1054.4V1065.8M2208.25 1054.4V1065.8M2257.5 1054.4V1065.8M2306.75 1054.4V1065.8M2356 1054.4V1065.8M2405.25 1054.4V1065.8M2454.5 1054.4V1065.8M2503.75 1054.4V1065.8M2553 1054.4V1065.8M2602.25 1054.4V1065.8M2651.5 1054.4V1065.8M2700.75 1054.4V1065.8M2750 1054.4V1065.8M2799.25 1054.4V1065.8M2848.5 1054.4V1065.8M2897.75 1054.4V1065.8M2947 1054.4V1065.8M2996.25 1054.4V1065.8M3045.5 1054.4V1065.8M3094.75 1054.4V1065.8M3144 1054.4V1065.8M3193.25 1054.4V1065.8" stroke="#333" stroke-width="4.3" fill="none"/>
<g font-size="37.4" fill="#4d4d4d" text-anchor="end"><text transform="translate(414.3,180.3) scale(1,1.0)">Progenitors</text><text transform="translate(414.3,237.22) scale(1,1.0)">Plasma cells</text><text transform="translate(414.3,294.14) scale(1,1.0)">Physiology B cells</text><text transform="translate(414.3,351.06) scale(1,1.0)">pDCs</text><text transform="translate(414.3,407.98) scale(1,1.0)">NK cells</text><text transform="translate(414.3,464.9) scale(1,1.0)">Neutrophils</text><text transform="translate(414.3,521.82) scale(1,1.0)">Mono/Macro</text><text transform="translate(414.3,578.74) scale(1,1.0)">Mast cells</text><text transform="translate(414.3,635.66) scale(1,1.0)">Malignant cells</text><text transform="translate(414.3,692.58) scale(1,1.0)">Fibroblasts</text><text transform="translate(414.3,749.5) scale(1,1.0)">Erythrocytes</text><text transform="translate(414.3,806.42) scale(1,1.0)">Endothelial cells</text><text transform="translate(414.3,863.34) scale(1,1.0)">cDCs</text><text transform="translate(414.3,920.26) scale(1,1.0)">CD8+ T cells</text><text transform="translate(414.3,977.18) scale(1,1.0)">CD4+ T cells</text><text transform="translate(414.3,1034.1) scale(1,1.0)">B cells</text></g>
<g font-size="29.17" fill="#4d4d4d" text-anchor="end"><text transform="translate(483.4,1074.6) rotate(-50)" y="22.6">GSE140440</text><text transform="translate(532.65,1074.6) rotate(-50)" y="22.6">GSE186960</text><text transform="translate(581.9,1074.6) rotate(-50)" y="22.6">GSE138267</text><text transform="translate(631.15,1074.6) rotate(-50)" y="22.6">GSE131984_Pac</text><text transform="translate(680.4,1074.6) rotate(-50)" y="22.6">GSE163836</text><text transform="translate(729.65,1074.6) rotate(-50)" y="22.6">GSE169246_PacBlood_post</text><text transform="translate(778.9,1074.6) rotate(-50)" y="22.6">GSE169246_PacBlood_pre</text><text transform="translate(828.15,1074.6) rotate(-50)" y="22.6">GSE169246_PacTissue_post</text><text transform="translate(877.4,1074.6) rotate(-50)" y="22.6">GSE169246_PacTissue_pre</text><text transform="translate(926.65,1074.6) rotate(-50)" y="22.6">GSE153697</text><text transform="translate(975.9,1074.6) rotate(-50)" y="22.6">GSE169246_PacAteBlood_post</text><text transform="translate(1025.15,1074.6) rotate(-50)" y="22.6">GSE169246_PacAteBlood_pre</text><text transform="translate(1074.4,1074.6) rotate(-50)" y="22.6">GSE169246_PacAteTissue_post</text><text transform="translate(1123.65,1074.6) rotate(-50)" y="22.6">GSE169246_PacAteTissue_pre</text><text transform="translate(1172.9,1074.6) rotate(-50)" y="22.6">GSE197268_Axi&#8722;cel_post</text><text transform="translate(1222.15,1074.6) rotate(-50)" y="22.6">GSE197268_Axi&#8722;cel_pre</text><text transform="translate(1271.4,1074.6) rotate(-50)" y="22.6">GSE164551</text><text transform="translate(1320.65,1074.6) rotate(-50)" y="22.6">PMID34715028_post</text><text transform="translate(1369.9,1074.6) rotate(-50)" y="22.6">GSE212217_post</text><text transform="translate(1419.15,1074.6) rotate(-50)" y="22.6">GSE212217_pre</text><text transform="translate(1468.4,1074.6) rotate(-50)" y="22.6">GSE164237_post</text><text transform="translate(1517.65,1074.6) rotate(-50)" y="22.6">GSE164237_pre</text><text transform="translate(1566.9,1074.6) rotate(-50)" y="22.6">GSE150930</text><text transform="translate(1616.15,1074.6) rotate(-50)" y="22.6">GSE207422_Sin_post</text><text transform="translate(1665.4,1074.6) rotate(-50)" y="22.6">GSE197268_Tisa&#8722;cel_post</text><text transform="translate(1714.65,1074.6) rotate(-50)" y="22.6">GSE197268_Tisa&#8722;cel_pre</text><text transform="translate(1763.9,1074.6) rotate(-50)" y="22.6">GSE207422_Tor_post</text><text transform="translate(1813.15,1074.6) rotate(-50)" y="22.6">GSE189460_pre</text><text transform="translate(1862.4,1074.6) rotate(-50)" y="22.6">GSE161801_PI_post</text><text transform="translate(1911.65,1074.6) rotate(-50)" y="22.6">GSE161801_PI_pre</text><text transform="translate(1960.9,1074.6) rotate(-50)" y="22.6">GSE139386</text><text transform="translate(2010.15,1074.6) rotate(-50)" y="22.6">GSE161195_post</text><text transform="translate(2059.4,1074.6) rotate(-50)" y="22.6">GSE161195_pre</text><text transform="translate(2108.65,1074.6) rotate(-50)" y="22.6">GSE158457</text><text transform="translate(2157.9,1074.6) rotate(-50)" y="22.6">GSE168668</text><text transform="translate(2207.15,1074.6) rotate(-50)" y="22.6">GSE149214</text><text transform="translate(2256.4,1074.6) rotate(-50)" y="22.6">GSE162117_post</text><text transform="translate(2305.65,1074.6) rotate(-50)" y="22.6">GSE162117_pre</text><text transform="translate(2354.9,1074.6) rotate(-50)" y="22.6">GSE199333_post</text><text transform="translate(2404.15,1074.6) rotate(-50)" y="22.6">GSE199333_pre</text><text transform="translate(2453.4,1074.6) rotate(-50)" y="22.6">GSE111014_post</text><text transform="translate(2502.65,1074.6) rotate(-50)" y="22.6">GSE111014_pre</text><text transform="translate(2551.9,1074.6) rotate(-50)" y="22.6">GSE152469</text><text transform="translate(2601.15,1074.6) rotate(-50)" y="22.6">GSE131984_JQ1</text><text transform="translate(2650.4,1074.6) rotate(-50)" y="22.6">GSE131984_JQ1Pac</text><text transform="translate(2699.65,1074.6) rotate(-50)" y="22.6">GSE131984_JQ1Pal</text><text transform="translate(2748.9,1074.6) rotate(-50)" y="22.6">GSE104987</text><text transform="translate(2798.15,1074.6) rotate(-50)" y="22.6">GSE131984_Pal</text><text transform="translate(2847.4,1074.6) rotate(-50)" y="22.6">GSE108397</text><text transform="translate(2896.65,1074.6) rotate(-50)" y="22.6">GSE161801_IMiD_post</text><text transform="translate(2945.9,1074.6) rotate(-50)" y="22.6">GSE161801_IMiD_pre</text><text transform="translate(2995.15,1074.6) rotate(-50)" y="22.6">GSE175716</text><text transform="translate(3044.4,1074.6) rotate(-50)" y="22.6">GSE115251</text><text transform="translate(3093.65,1074.6) rotate(-50)" y="22.6">GSE164897_Vem</text><text transform="translate(3142.9,1074.6) rotate(-50)" y="22.6">GSE164897_VemCob</text><text transform="translate(3192.15,1074.6) rotate(-50)" y="22.6">GSE164897_VemTra</text></g>
<text transform="translate(3291.5,491.2) scale(1,1.0)" font-size="46.2" fill="#000">Expression</text>
<rect x="3291.1" y="518.5" width="72" height="216" fill="#f2f2f2"/>
<circle cx="3327.4" cy="554.2" r="8.15" fill="#d9968c" stroke="rgba(0,0,0,0.54)" stroke-width="3.1"/>
<path d="M3319.43 552.51A8.15 8.15 0 0 0 3319.43 555.89" fill="none" stroke="rgba(0,0,0,0.54)" stroke-width="3.1"/>
<text transform="translate(3386,567.5) scale(1,1.0)" font-size="37.8" fill="#000">Up</text>
<circle cx="3327.4" cy="626.3" r="8.15" fill="#7bb3d6" stroke="rgba(0,0,0,0.54)" stroke-width="3.1"/>
<path d="M3319.43 624.61A8.15 8.15 0 0 0 3319.43 627.99" fill="none" stroke="rgba(0,0,0,0.54)" stroke-width="3.1"/>
<text transform="translate(3386,639.6) scale(1,1.0)" font-size="37.8" fill="#000">Down</text>
<circle cx="3327.4" cy="698.4" r="8.15" fill="#f8f8f8" stroke="rgba(0,0,0,0.5)" stroke-width="3.1"/>
<path d="M3319.43 696.71A8.15 8.15 0 0 0 3319.43 700.09" fill="none" stroke="rgba(0,0,0,0.5)" stroke-width="3.1"/>
<text transform="translate(3386,711.7) scale(1,1.0)" font-size="37.8" fill="#000">None</text>
<path d="M435.1 1418.5H666.8M681.3 1418.5H1602.4M1626.9 1418.5H3045.5" stroke="#000" stroke-width="4.6"/>
<g style="font-family:'Liberation Serif', serif" font-size="54" fill="#000">
<text x="324.8" y="1483.3">Chemotherapy</text>
<text x="1010.4" y="1483.3">Immunotherapy</text>
<text x="2224.2" y="1483.2">Targeted therapy</text>
</g>
</svg></body></html>
